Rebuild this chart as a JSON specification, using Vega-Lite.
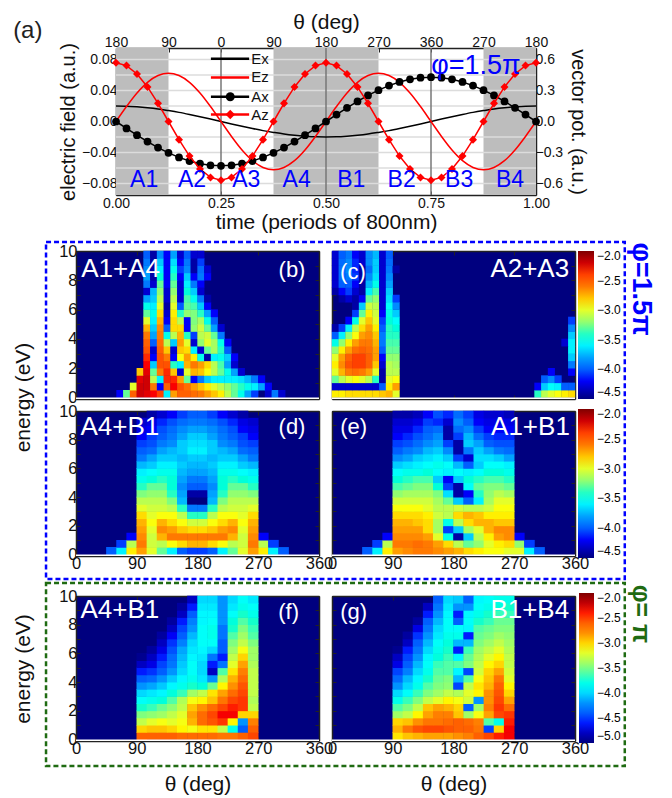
{"$schema":"https://vega.github.io/schema/vega-lite/v6.json","padding":{"left":12,"top":11,"right":0,"bottom":0},"background":"white","spacing":0,"bounds":"flush",
"config":{"view":{"stroke":null},"font":"Liberation Sans","text":{"font":"Liberation Sans"},"legend":{"labelFont":"Liberation Sans"},"axis":{"grid":false,"domainColor":"#222","domainWidth":1.5,"tickColor":"#222","tickSize":-4,"tickWidth":1,"labelFontSize":16.5,"labelColor":"#111","labelPadding":3,"titleFontWeight":"normal","titleColor":"#111","labelFont":"Liberation Sans","titleFont":"Liberation Sans","labelOverlap":false,"labelBound":false,"labelFlush":false}},
"resolve":{"scale":{"color":"independent","x":"independent","y":"independent"}},
"datasets":{"leg":[{"a":0.226,"b":0.317,"y":0.081,"s":"Ex","m":0.322},{"a":0.226,"b":0.317,"y":0.057,"s":"Ez","m":0.322},{"a":0.226,"b":0.317,"y":0.032,"s":"Ax","m":0.322},{"a":0.226,"b":0.317,"y":0.009,"s":"Az","m":0.322}],"one":[{"a":0}]},
"vconcat":[
{"spacing":0,"bounds":"flush","hconcat":[{"width":40,"height":1,"data":{"name":"one"},"mark":{"type":"point","opacity":0},"encoding":{}},
{"width":420,"height":147,"data":{"values":[
{"t":0,"Ex":0.02,"Ez":0,"Ax":0,"Az":0.57},{"t":0.025,"Ex":0.0198,"Ez":0.0193,"Ax":-0.067,"Az":0.542},{"t":0.05,"Ex":0.019,"Ez":0.0368,"Ax":-0.133,"Az":0.461},{"t":0.075,"Ex":0.0178,"Ez":0.0506,"Ax":-0.195,"Az":0.335},{"t":0.1,"Ex":0.0162,"Ez":0.0594,"Ax":-0.253,"Az":0.176},{"t":0.125,"Ex":0.0141,"Ez":0.0625,"Ax":-0.304,"Az":0},{"t":0.15,"Ex":0.0118,"Ez":0.0594,"Ax":-0.348,"Az":-0.176},{"t":0.175,"Ex":0.0091,"Ez":0.0506,"Ax":-0.383,"Az":-0.335},{"t":0.2,"Ex":0.0062,"Ez":0.0368,"Ax":-0.409,"Az":-0.461},{"t":0.225,"Ex":0.0031,"Ez":0.0193,"Ax":-0.425,"Az":-0.542},{"t":0.25,"Ex":0,"Ez":0,"Ax":-0.43,"Az":-0.57},{"t":0.275,"Ex":-0.0031,"Ez":-0.0193,"Ax":-0.425,"Az":-0.542},{"t":0.3,"Ex":-0.0062,"Ez":-0.0368,"Ax":-0.409,"Az":-0.461},{"t":0.325,"Ex":-0.0091,"Ez":-0.0506,"Ax":-0.383,"Az":-0.335},{"t":0.35,"Ex":-0.0118,"Ez":-0.0594,"Ax":-0.348,"Az":-0.176},{"t":0.375,"Ex":-0.0141,"Ez":-0.0625,"Ax":-0.304,"Az":0},{"t":0.4,"Ex":-0.0162,"Ez":-0.0594,"Ax":-0.253,"Az":0.176},{"t":0.425,"Ex":-0.0178,"Ez":-0.0506,"Ax":-0.195,"Az":0.335},{"t":0.45,"Ex":-0.019,"Ez":-0.0368,"Ax":-0.133,"Az":0.461},{"t":0.475,"Ex":-0.0198,"Ez":-0.0193,"Ax":-0.067,"Az":0.542},{"t":0.5,"Ex":-0.02,"Ez":0,"Ax":0,"Az":0.57},{"t":0.525,"Ex":-0.0198,"Ez":0.0193,"Ax":0.067,"Az":0.542},{"t":0.55,"Ex":-0.019,"Ez":0.0368,"Ax":0.133,"Az":0.461},{"t":0.575,"Ex":-0.0178,"Ez":0.0506,"Ax":0.195,"Az":0.335},{"t":0.6,"Ex":-0.0162,"Ez":0.0594,"Ax":0.253,"Az":0.176},{"t":0.625,"Ex":-0.0141,"Ez":0.0625,"Ax":0.304,"Az":0},{"t":0.65,"Ex":-0.0118,"Ez":0.0594,"Ax":0.348,"Az":-0.176},{"t":0.675,"Ex":-0.0091,"Ez":0.0506,"Ax":0.383,"Az":-0.335},{"t":0.7,"Ex":-0.0062,"Ez":0.0368,"Ax":0.409,"Az":-0.461},{"t":0.725,"Ex":-0.0031,"Ez":0.0193,"Ax":0.425,"Az":-0.542},{"t":0.75,"Ex":0,"Ez":0,"Ax":0.43,"Az":-0.57},{"t":0.775,"Ex":0.0031,"Ez":-0.0193,"Ax":0.425,"Az":-0.542},{"t":0.8,"Ex":0.0062,"Ez":-0.0368,"Ax":0.409,"Az":-0.461},{"t":0.825,"Ex":0.0091,"Ez":-0.0506,"Ax":0.383,"Az":-0.335},{"t":0.85,"Ex":0.0118,"Ez":-0.0594,"Ax":0.348,"Az":-0.176},{"t":0.875,"Ex":0.0141,"Ez":-0.0625,"Ax":0.304,"Az":0},{"t":0.9,"Ex":0.0162,"Ez":-0.0594,"Ax":0.253,"Az":0.176},{"t":0.925,"Ex":0.0178,"Ez":-0.0506,"Ax":0.195,"Az":0.335},{"t":0.95,"Ex":0.019,"Ez":-0.0368,"Ax":0.133,"Az":0.461},{"t":0.975,"Ex":0.0198,"Ez":-0.0193,"Ax":0.067,"Az":0.542},{"t":1,"Ex":0.02,"Ez":0,"Ax":0,"Az":0.57}]},
"resolve":{"scale":{"y":"independent"},"axis":{"x":"independent","y":"independent"}},
"layer":[
{"data":{"values":[{"a":0,"b":0.125},{"a":0.375,"b":0.625},{"a":0.875,"b":1}]},"mark":{"type":"rect","color":"#bdbdbd"},"encoding":{"x":{"field":"a","type":"quantitative","scale":{"domain":[0,1],"nice":false},"axis":{"title":"time (periods of 800nm)","titleFontSize":21,"titlePadding":1,"values":[0,0.25,0.5,0.75,1],"format":".2f","labelFontSize":14,"labelPadding":5}},"x2":{"field":"b"}}},
{"data":{"values":[{"g":-0.08},{"g":-0.06},{"g":-0.04},{"g":-0.02},{"g":0.02},{"g":0.04},{"g":0.06},{"g":0.08}]},"mark":{"type":"rule","color":"#dcdcdc","strokeWidth":1.5},"encoding":{"y":{"field":"g","type":"quantitative","scale":{"domain":[-0.095,0.095],"nice":false},"axis":{"title":"electric field (a.u.)","titleFontSize":20,"titlePadding":3,"values":[-0.08,-0.04,0,0.04,0.08],"format":".2f","labelFontSize":14}}}},
{"data":{"values":[{"g":0.25},{"g":0.5},{"g":0.75}]},"mark":{"type":"rule","color":"#777","strokeWidth":1.5},"encoding":{"x":{"field":"g","type":"quantitative","axis":null}}},
{"mark":{"type":"line","color":"black","strokeWidth":1.5,"interpolate":"monotone"},"encoding":{"x":{"field":"t","type":"quantitative","axis":null},"y":{"field":"Ex","type":"quantitative","scale":{"domain":[-0.095,0.095],"nice":false},"axis":null}}},
{"mark":{"type":"line","color":"#ff0000","strokeWidth":1.5,"interpolate":"monotone"},"encoding":{"x":{"field":"t","type":"quantitative","axis":null},"y":{"field":"Ez","type":"quantitative","scale":{"domain":[-0.095,0.095],"nice":false},"axis":null}}},
{"mark":{"type":"line","color":"black","strokeWidth":1.5,"point":{"filled":true,"size":60,"color":"black"}},"encoding":{"x":{"field":"t","type":"quantitative","axis":null},"y":{"field":"Ax","type":"quantitative","scale":{"domain":[-0.7125,0.7125],"nice":false},"axis":{"orient":"right","title":"vector pot. (a.u.)","titleFontSize":20,"titlePadding":5,"values":[-0.6,-0.3,0,0.3,0.6],"format":".1f","labelFontSize":14}}}},
{"mark":{"type":"line","color":"#ff0000","strokeWidth":1.5,"point":{"filled":true,"size":65,"shape":"diamond","color":"#ff0000"}},"encoding":{"x":{"field":"t","type":"quantitative","axis":null},"y":{"field":"Az","type":"quantitative","scale":{"domain":[-0.7125,0.7125],"nice":false},"axis":null}}},
{"data":{"name":"leg"},"mark":{"type":"rule","strokeWidth":2.5},"encoding":{"x":{"field":"a","type":"quantitative","axis":null},"x2":{"field":"b"},"y":{"field":"y","type":"quantitative","scale":{"domain":[-0.095,0.095],"nice":false},"axis":null},"color":{"field":"s","type":"nominal","legend":null,"scale":{"domain":["Ex","Ez","Ax","Az"],"range":["black","#ff0000","black","#ff0000"]}}}},
{"data":{"values":[{"a":0.272,"y":0.032,"s":"Ax"}]},"mark":{"type":"point","filled":true,"size":80,"color":"black","opacity":1},"encoding":{"x":{"field":"a","type":"quantitative","axis":null},"y":{"field":"y","type":"quantitative","scale":{"domain":[-0.095,0.095],"nice":false},"axis":null}}},
{"data":{"values":[{"a":0.272,"y":0.009,"s":"Az"}]},"mark":{"type":"point","filled":true,"size":90,"shape":"diamond","color":"#ff0000","opacity":1},"encoding":{"x":{"field":"a","type":"quantitative","axis":null},"y":{"field":"y","type":"quantitative","scale":{"domain":[-0.095,0.095],"nice":false},"axis":null}}},
{"data":{"name":"leg"},"mark":{"type":"text","align":"left","fontSize":15,"color":"#111"},"encoding":{"x":{"field":"m","type":"quantitative","axis":null},"y":{"field":"y","type":"quantitative","scale":{"domain":[-0.095,0.095],"nice":false},"axis":null},"text":{"field":"s"}}},
{"data":{"values":[{"a":0.067,"y":-0.075,"s":"A1"},{"a":0.181,"y":-0.075,"s":"A2"},{"a":0.31,"y":-0.075,"s":"A3"},{"a":0.43,"y":-0.075,"s":"A4"},{"a":0.56,"y":-0.075,"s":"B1"},{"a":0.68,"y":-0.075,"s":"B2"},{"a":0.817,"y":-0.075,"s":"B3"},{"a":0.938,"y":-0.075,"s":"B4"}]},"mark":{"type":"text","fontSize":23,"color":"#0000ff"},"encoding":{"x":{"field":"a","type":"quantitative","axis":null},"y":{"field":"y","type":"quantitative","scale":{"domain":[-0.095,0.095],"nice":false},"axis":null},"text":{"field":"s"}}},
{"data":{"values":[{"a":-0.21,"y":0.117,"s":"(a)"}]},"mark":{"type":"text","fontSize":24,"color":"#222"},"encoding":{"x":{"field":"a","type":"quantitative","axis":null},"y":{"field":"y","type":"quantitative","scale":{"domain":[-0.095,0.095],"nice":false},"axis":null},"text":{"field":"s"}}},
{"data":{"values":[{"a":0.857,"y":0.072,"s":"φ=1.5π"}]},"mark":{"type":"text","fontSize":27,"color":"#0000ff"},"encoding":{"x":{"field":"a","type":"quantitative","axis":{"orient":"top","title":"θ (deg)","titleFontSize":21,"titlePadding":3,"values":[0,0.125,0.25,0.375,0.5,0.625,0.75,0.875,1],"labelExpr":"['180','90','0','90','180','270','360','270','180'][round(datum.value*8)]","labelFontSize":14}},"y":{"field":"y","type":"quantitative","scale":{"domain":[-0.095,0.095],"nice":false},"axis":{"orient":"left","labels":false,"title":null,"values":[-0.08,-0.06,-0.04,-0.02,0,0.02,0.04,0.06,0.08],"domain":false}},"text":{"field":"s"}}}
]}]},
{"width":1,"height":203,"data":{"name":"one"},"mark":{"type":"point","opacity":0},"encoding":{}},
{"spacing":13,"bounds":"flush","resolve":{"scale":{"color":"independent","x":"independent","y":"independent"}},"hconcat":[
{"width":243,"height":148,"view":{"fill":"#00007f"},"data":{"values":[
{"t":65,"e":0.25,"v":-4.2},{"t":75,"e":0.25,"v":-3.3},{"t":85,"e":0.25,"v":-2.5},{"t":95,"e":0.25,"v":-2.2},{"t":105,"e":0.25,"v":-2.25},{"t":115,"e":0.25,"v":-2.3},{"t":125,"e":0.25,"v":-2.4},{"t":135,"e":0.25,"v":-3.6},{"t":145,"e":0.25,"v":-2.7},{"t":155,"e":0.25,"v":-2.5},{"t":165,"e":0.25,"v":-2.5},{"t":175,"e":0.25,"v":-2.55},{"t":185,"e":0.25,"v":-2.6},{"t":195,"e":0.25,"v":-2.7},{"t":205,"e":0.25,"v":-2.8},{"t":215,"e":0.25,"v":-2.9},{"t":225,"e":0.25,"v":-3.1},{"t":235,"e":0.25,"v":-3.3},{"t":245,"e":0.25,"v":-3.5},{"t":255,"e":0.25,"v":-3.8},{"t":265,"e":0.25,"v":-4.1},{"t":285,"e":0.25,"v":-4.3},{"t":295,"e":0.25,"v":-3.9},{"t":305,"e":0.25,"v":-4.3},
{"t":85,"e":0.75,"v":-3},{"t":95,"e":0.75,"v":-2.2},{"t":105,"e":0.75,"v":-2.2},{"t":115,"e":0.75,"v":-2.6},{"t":125,"e":0.75,"v":-4.2},{"t":135,"e":0.75,"v":-2.5},{"t":145,"e":0.75,"v":-2.3},{"t":155,"e":0.75,"v":-2.45},{"t":165,"e":0.75,"v":-2.55},{"t":175,"e":0.75,"v":-2.7},{"t":185,"e":0.75,"v":-2.8},{"t":195,"e":0.75,"v":-2.9},{"t":205,"e":0.75,"v":-3},{"t":215,"e":0.75,"v":-3.1},{"t":225,"e":0.75,"v":-3.2},{"t":235,"e":0.75,"v":-3.3},{"t":245,"e":0.75,"v":-3.4},{"t":255,"e":0.75,"v":-3.5},{"t":265,"e":0.75,"v":-3.6},{"t":275,"e":0.75,"v":-3.8},{"t":285,"e":0.75,"v":-4.2},
{"t":95,"e":1.25,"v":-2.25},{"t":105,"e":1.25,"v":-2.2},{"t":115,"e":1.25,"v":-3.1},{"t":125,"e":1.25,"v":-3.6},{"t":135,"e":1.25,"v":-2.35},{"t":145,"e":1.25,"v":-2.35},{"t":155,"e":1.25,"v":-2.7},{"t":165,"e":1.25,"v":-3.3},{"t":175,"e":1.25,"v":-4.2},{"t":185,"e":1.25,"v":-3.9},{"t":195,"e":1.25,"v":-3.7},{"t":205,"e":1.25,"v":-3.6},{"t":215,"e":1.25,"v":-3.6},{"t":225,"e":1.25,"v":-3.6},{"t":235,"e":1.25,"v":-3.6},{"t":245,"e":1.25,"v":-3.65},{"t":255,"e":1.25,"v":-3.75},{"t":265,"e":1.25,"v":-3.9},{"t":275,"e":1.25,"v":-4.2},
{"t":95,"e":1.75,"v":-2.8},{"t":105,"e":1.75,"v":-2.25},{"t":115,"e":1.75,"v":-3.3},{"t":125,"e":1.75,"v":-2.6},{"t":135,"e":1.75,"v":-2.35},{"t":145,"e":1.75,"v":-2.8},{"t":155,"e":1.75,"v":-4.3},{"t":165,"e":1.75,"v":-3},{"t":175,"e":1.75,"v":-2.75},{"t":185,"e":1.75,"v":-2.8},{"t":195,"e":1.75,"v":-2.95},{"t":205,"e":1.75,"v":-3.1},{"t":215,"e":1.75,"v":-3.3},{"t":225,"e":1.75,"v":-3.5},{"t":235,"e":1.75,"v":-3.8},{"t":245,"e":1.75,"v":-4.3},
{"t":105,"e":2.25,"v":-2.3},{"t":115,"e":2.25,"v":-3.7},{"t":125,"e":2.25,"v":-2.45},{"t":135,"e":2.25,"v":-2.45},{"t":145,"e":2.25,"v":-3.4},{"t":155,"e":2.25,"v":-3.6},{"t":165,"e":2.25,"v":-2.75},{"t":175,"e":2.25,"v":-2.6},{"t":185,"e":2.25,"v":-2.7},{"t":195,"e":2.25,"v":-2.85},{"t":205,"e":2.25,"v":-3.1},{"t":215,"e":2.25,"v":-3.35},{"t":225,"e":2.25,"v":-3.8},{"t":235,"e":2.25,"v":-4.3},
{"t":105,"e":2.75,"v":-2.35},{"t":115,"e":2.75,"v":-4.2},{"t":125,"e":2.75,"v":-2.45},{"t":135,"e":2.75,"v":-2.6},{"t":145,"e":2.75,"v":-4.2},{"t":155,"e":2.75,"v":-2.95},{"t":165,"e":2.75,"v":-2.7},{"t":175,"e":2.75,"v":-2.9},{"t":185,"e":2.75,"v":-3.5},{"t":195,"e":2.75,"v":-4.4},{"t":205,"e":2.75,"v":-3.6},{"t":215,"e":2.75,"v":-3.5},{"t":225,"e":2.75,"v":-3.7},{"t":235,"e":2.75,"v":-4.2},
{"t":105,"e":3.25,"v":-2.45},{"t":115,"e":3.25,"v":-4.3},{"t":125,"e":3.25,"v":-2.5},{"t":135,"e":3.25,"v":-2.8},{"t":145,"e":3.25,"v":-4.3},{"t":155,"e":3.25,"v":-2.8},{"t":165,"e":3.25,"v":-2.85},{"t":175,"e":3.25,"v":-3.6},{"t":185,"e":3.25,"v":-4.3},{"t":195,"e":3.25,"v":-3.3},{"t":205,"e":3.25,"v":-3.15},{"t":215,"e":3.25,"v":-3.4},{"t":225,"e":3.25,"v":-4},
{"t":105,"e":3.75,"v":-2.5},{"t":115,"e":3.75,"v":-4},{"t":125,"e":3.75,"v":-2.55},{"t":135,"e":3.75,"v":-3.1},{"t":145,"e":3.75,"v":-3.7},{"t":155,"e":3.75,"v":-2.7},{"t":165,"e":3.75,"v":-3},{"t":175,"e":3.75,"v":-4.3},{"t":185,"e":3.75,"v":-3.2},{"t":195,"e":3.75,"v":-3},{"t":205,"e":3.75,"v":-3.15},{"t":215,"e":3.75,"v":-3.5},{"t":225,"e":3.75,"v":-4.2},
{"t":105,"e":4.25,"v":-2.6},{"t":115,"e":4.25,"v":-3.8},{"t":125,"e":4.25,"v":-2.6},{"t":135,"e":4.25,"v":-3.5},{"t":145,"e":4.25,"v":-3.1},{"t":155,"e":4.25,"v":-2.75},{"t":165,"e":4.25,"v":-3.4},{"t":175,"e":4.25,"v":-4.1},{"t":185,"e":4.25,"v":-3.1},{"t":195,"e":4.25,"v":-3.05},{"t":205,"e":4.25,"v":-3.3},{"t":215,"e":4.25,"v":-3.9},
{"t":105,"e":4.75,"v":-2.75},{"t":115,"e":4.75,"v":-3.7},{"t":125,"e":4.75,"v":-2.65},{"t":135,"e":4.75,"v":-4},{"t":145,"e":4.75,"v":-2.85},{"t":155,"e":4.75,"v":-2.85},{"t":165,"e":4.75,"v":-4.2},{"t":175,"e":4.75,"v":-3.2},{"t":185,"e":4.75,"v":-3.05},{"t":195,"e":4.75,"v":-3.3},{"t":205,"e":4.75,"v":-3.8},{"t":215,"e":4.75,"v":-4.3},
{"t":105,"e":5.25,"v":-3},{"t":115,"e":5.25,"v":-3.6},{"t":125,"e":5.25,"v":-2.75},{"t":135,"e":5.25,"v":-4.2},{"t":145,"e":5.25,"v":-2.85},{"t":155,"e":5.25,"v":-3.1},{"t":165,"e":5.25,"v":-4.2},{"t":175,"e":5.25,"v":-3.25},{"t":185,"e":5.25,"v":-3.15},{"t":195,"e":5.25,"v":-3.5},{"t":205,"e":5.25,"v":-4},
{"t":105,"e":5.75,"v":-3.3},{"t":115,"e":5.75,"v":-3.5},{"t":125,"e":5.75,"v":-2.85},{"t":135,"e":5.75,"v":-4.3},{"t":145,"e":5.75,"v":-2.9},{"t":155,"e":5.75,"v":-3.4},{"t":165,"e":5.75,"v":-3.2},{"t":175,"e":5.75,"v":-3.25},{"t":185,"e":5.75,"v":-3.4},{"t":195,"e":5.75,"v":-3.8},{"t":205,"e":5.75,"v":-4.2},
{"t":105,"e":6.25,"v":-3.5},{"t":115,"e":6.25,"v":-3.6},{"t":125,"e":6.25,"v":-3},{"t":135,"e":6.25,"v":-4.4},{"t":145,"e":6.25,"v":-3},{"t":155,"e":6.25,"v":-4},{"t":165,"e":6.25,"v":-3.3},{"t":175,"e":6.25,"v":-3.35},{"t":185,"e":6.25,"v":-3.7},{"t":195,"e":6.25,"v":-4.2},
{"t":105,"e":6.75,"v":-3.8},{"t":115,"e":6.75,"v":-3.7},{"t":125,"e":6.75,"v":-3.1},{"t":135,"e":6.75,"v":-4.3},{"t":145,"e":6.75,"v":-3.1},{"t":155,"e":6.75,"v":-4.3},{"t":165,"e":6.75,"v":-3.35},{"t":175,"e":6.75,"v":-3.5},{"t":185,"e":6.75,"v":-3.9},{"t":195,"e":6.75,"v":-4.4},
{"t":105,"e":7.25,"v":-4.3},{"t":115,"e":7.25,"v":-3.75},{"t":125,"e":7.25,"v":-3.2},{"t":135,"e":7.25,"v":-4.3},{"t":145,"e":7.25,"v":-3.2},{"t":155,"e":7.25,"v":-4.3},{"t":165,"e":7.25,"v":-3.45},{"t":175,"e":7.25,"v":-3.7},{"t":185,"e":7.25,"v":-4.3},
{"t":105,"e":7.75,"v":-3.9},{"t":115,"e":7.75,"v":-4.3},{"t":125,"e":7.75,"v":-3.3},{"t":135,"e":7.75,"v":-4.2},{"t":145,"e":7.75,"v":-3.3},{"t":155,"e":7.75,"v":-4.3},{"t":165,"e":7.75,"v":-3.6},{"t":175,"e":7.75,"v":-3.9},{"t":185,"e":7.75,"v":-4.2},
{"t":105,"e":8.25,"v":-3.8},{"t":115,"e":8.25,"v":-4.4},{"t":125,"e":8.25,"v":-3.45},{"t":135,"e":8.25,"v":-4.2},{"t":145,"e":8.25,"v":-3.4},{"t":155,"e":8.25,"v":-4.2},{"t":165,"e":8.25,"v":-3.7},{"t":175,"e":8.25,"v":-4.2},{"t":185,"e":8.25,"v":-3.9},{"t":195,"e":8.25,"v":-4.2},
{"t":105,"e":8.75,"v":-3.85},{"t":115,"e":8.75,"v":-4.4},{"t":125,"e":8.75,"v":-3.6},{"t":135,"e":8.75,"v":-4.2},{"t":145,"e":8.75,"v":-3.5},{"t":155,"e":8.75,"v":-4.1},{"t":165,"e":8.75,"v":-3.85},{"t":175,"e":8.75,"v":-4.4},{"t":185,"e":8.75,"v":-3.95},{"t":195,"e":8.75,"v":-4.3},
{"t":105,"e":9.25,"v":-3.9},{"t":115,"e":9.25,"v":-4.4},{"t":125,"e":9.25,"v":-3.7},{"t":135,"e":9.25,"v":-4.2},{"t":145,"e":9.25,"v":-3.65},{"t":155,"e":9.25,"v":-4.2},{"t":165,"e":9.25,"v":-3.9},{"t":175,"e":9.25,"v":-4.4},{"t":185,"e":9.25,"v":-4.1},
{"t":105,"e":9.75,"v":-4},{"t":115,"e":9.75,"v":-4.4},{"t":125,"e":9.75,"v":-3.85},{"t":135,"e":9.75,"v":-4.2},{"t":145,"e":9.75,"v":-3.8},{"t":155,"e":9.75,"v":-4.3},{"t":165,"e":9.75,"v":-4},{"t":175,"e":9.75,"v":-4.3},{"t":185,"e":9.75,"v":-4.3}]},"resolve":{"axis":{"x":"independent","y":"independent"}},"layer":[
{"mark":{"type":"rect","width":7.1,"height":7.8},"encoding":{"x":{"field":"t","type":"quantitative","scale":{"domain":[0,360],"nice":false},"axis":{"title":null,"labels":false,"values":[0,90,180,270,360]}},"y":{"field":"e","type":"quantitative","scale":{"domain":[-0.1,10],"nice":false},"axis":{"title":"energy (eV)","titleFontSize":21,"titleX":-43,"titleY":146,"values":[0,1,2,3,4,5,6,7,8,9,10],"labelExpr":"datum.value%2==0?datum.label:''"}},"color":{"field":"v","type":"quantitative","legend":null,"scale":{"domain":[-4.5,-4.1875,-3.875,-3.5625,-3.25,-2.9375,-2.625,-2.3125,-2],"range":["#00007f","#0000ff","#007fff","#00ffff","#7fff7f","#ffff00","#ff7f00","#ff0000","#7f0000"]}}}},
{"data":{"name":"one"},"mark":{"type":"rule","color":"white","strokeWidth":1.5},"encoding":{"y":{"datum":-0.05,"type":"quantitative","scale":{"domain":[-0.1,10],"nice":false},"axis":null}}},
{"data":{"values":[{"t":66,"e":8.8,"s":"A1+A4"}]},"mark":{"type":"text","fontSize":26,"color":"white"},"encoding":{"x":{"field":"t","type":"quantitative","axis":{"orient":"top","title":null,"labels":false,"values":[0,90,180,270,360]}},"y":{"field":"e","type":"quantitative","scale":{"domain":[-0.1,10],"nice":false},"axis":{"orient":"right","title":null,"labels":false,"values":[0,1,2,3,4,5,6,7,8,9,10]}},"text":{"field":"s"}}},
{"data":{"values":[{"t":320,"e":8.7,"s":"(b)"}]},"mark":{"type":"text","fontSize":22,"color":"white"},"encoding":{"x":{"field":"t","type":"quantitative","axis":null},"y":{"field":"e","type":"quantitative","scale":{"domain":[-0.1,10],"nice":false},"axis":null},"text":{"field":"s"}}}]},
{"width":243,"height":148,"view":{"fill":"#00007f"},"data":{"values":[
{"t":5,"e":0.25,"v":-2.9},{"t":15,"e":0.25,"v":-2.9},{"t":25,"e":0.25,"v":-2.85},{"t":35,"e":0.25,"v":-2.85},{"t":45,"e":0.25,"v":-2.85},{"t":55,"e":0.25,"v":-2.85},{"t":65,"e":0.25,"v":-2.85},{"t":75,"e":0.25,"v":-2.8},{"t":85,"e":0.25,"v":-2.75},{"t":95,"e":0.25,"v":-3},{"t":305,"e":0.25,"v":-3.4},{"t":315,"e":0.25,"v":-3.1},{"t":325,"e":0.25,"v":-3},{"t":335,"e":0.25,"v":-2.95},{"t":345,"e":0.25,"v":-2.9},{"t":355,"e":0.25,"v":-2.85},
{"t":5,"e":0.75,"v":-4.3},{"t":15,"e":0.75,"v":-4.3},{"t":25,"e":0.75,"v":-4.3},{"t":35,"e":0.75,"v":-4.3},{"t":45,"e":0.75,"v":-4.3},{"t":55,"e":0.75,"v":-4.3},{"t":65,"e":0.75,"v":-4.3},{"t":75,"e":0.75,"v":-4},{"t":85,"e":0.75,"v":-2.9},{"t":95,"e":0.75,"v":-2.7},{"t":305,"e":0.75,"v":-4.2},{"t":315,"e":0.75,"v":-3.7},{"t":325,"e":0.75,"v":-3.55},{"t":335,"e":0.75,"v":-3.6},{"t":345,"e":0.75,"v":-4},{"t":355,"e":0.75,"v":-4},
{"t":5,"e":1.25,"v":-3.3},{"t":15,"e":1.25,"v":-3.1},{"t":25,"e":1.25,"v":-3},{"t":35,"e":1.25,"v":-2.95},{"t":45,"e":1.25,"v":-3},{"t":55,"e":1.25,"v":-3.1},{"t":65,"e":1.25,"v":-3.4},{"t":75,"e":1.25,"v":-4.4},{"t":85,"e":1.25,"v":-3},{"t":95,"e":1.25,"v":-2.95},{"t":315,"e":1.25,"v":-4},{"t":325,"e":1.25,"v":-3.85},{"t":335,"e":1.25,"v":-4.1},
{"t":5,"e":1.75,"v":-3},{"t":15,"e":1.75,"v":-2.75},{"t":25,"e":1.75,"v":-2.6},{"t":35,"e":1.75,"v":-2.55},{"t":45,"e":1.75,"v":-2.6},{"t":55,"e":1.75,"v":-2.7},{"t":65,"e":1.75,"v":-3},{"t":75,"e":1.75,"v":-4.4},{"t":85,"e":1.75,"v":-3.1},{"t":95,"e":1.75,"v":-3.1},{"t":325,"e":1.75,"v":-4.2},{"t":355,"e":1.75,"v":-4.2},
{"t":5,"e":2.25,"v":-2.9},{"t":15,"e":2.25,"v":-2.65},{"t":25,"e":2.25,"v":-2.45},{"t":35,"e":2.25,"v":-2.4},{"t":45,"e":2.25,"v":-2.4},{"t":55,"e":2.25,"v":-2.5},{"t":65,"e":2.25,"v":-2.8},{"t":75,"e":2.25,"v":-4.3},{"t":85,"e":2.25,"v":-3.1},{"t":95,"e":2.25,"v":-3.15},{"t":355,"e":2.25,"v":-3.9},
{"t":5,"e":2.75,"v":-3},{"t":15,"e":2.75,"v":-2.7},{"t":25,"e":2.75,"v":-2.5},{"t":35,"e":2.75,"v":-2.4},{"t":45,"e":2.75,"v":-2.4},{"t":55,"e":2.75,"v":-2.5},{"t":65,"e":2.75,"v":-2.7},{"t":75,"e":2.75,"v":-4.2},{"t":85,"e":2.75,"v":-3.2},{"t":95,"e":2.75,"v":-3.2},{"t":355,"e":2.75,"v":-3.7},
{"t":5,"e":3.25,"v":-3.2},{"t":15,"e":3.25,"v":-2.9},{"t":25,"e":3.25,"v":-2.7},{"t":35,"e":3.25,"v":-2.55},{"t":45,"e":3.25,"v":-2.5},{"t":55,"e":3.25,"v":-2.55},{"t":65,"e":3.25,"v":-2.7},{"t":75,"e":3.25,"v":-4},{"t":85,"e":3.25,"v":-3.3},{"t":95,"e":3.25,"v":-3.3},{"t":355,"e":3.25,"v":-3.6},
{"t":5,"e":3.75,"v":-3.5},{"t":15,"e":3.75,"v":-3.2},{"t":25,"e":3.75,"v":-2.9},{"t":35,"e":3.75,"v":-2.7},{"t":45,"e":3.75,"v":-2.6},{"t":55,"e":3.75,"v":-2.6},{"t":65,"e":3.75,"v":-2.75},{"t":75,"e":3.75,"v":-3.9},{"t":85,"e":3.75,"v":-3.35},{"t":95,"e":3.75,"v":-3.35},{"t":345,"e":3.75,"v":-4.3},{"t":355,"e":3.75,"v":-3.6},
{"t":5,"e":4.25,"v":-4},{"t":15,"e":4.25,"v":-3.6},{"t":25,"e":4.25,"v":-3.2},{"t":35,"e":4.25,"v":-2.95},{"t":45,"e":4.25,"v":-2.7},{"t":55,"e":4.25,"v":-2.65},{"t":65,"e":4.25,"v":-2.8},{"t":75,"e":4.25,"v":-3.9},{"t":85,"e":4.25,"v":-3.4},{"t":95,"e":4.25,"v":-3.4},{"t":355,"e":4.25,"v":-3.7},
{"t":5,"e":4.75,"v":-4.4},{"t":15,"e":4.75,"v":-4.1},{"t":25,"e":4.75,"v":-3.6},{"t":35,"e":4.75,"v":-3.1},{"t":45,"e":4.75,"v":-2.85},{"t":55,"e":4.75,"v":-2.7},{"t":65,"e":4.75,"v":-2.9},{"t":75,"e":4.75,"v":-4},{"t":85,"e":4.75,"v":-3.4},{"t":95,"e":4.75,"v":-3.45},{"t":355,"e":4.75,"v":-3.85},
{"t":25,"e":5.25,"v":-4.2},{"t":35,"e":5.25,"v":-3.5},{"t":45,"e":5.25,"v":-3},{"t":55,"e":5.25,"v":-2.8},{"t":65,"e":5.25,"v":-3},{"t":75,"e":5.25,"v":-4.1},{"t":85,"e":5.25,"v":-3.45},{"t":95,"e":5.25,"v":-3.55},{"t":355,"e":5.25,"v":-4.1},
{"t":35,"e":5.75,"v":-4.1},{"t":45,"e":5.75,"v":-3.3},{"t":55,"e":5.75,"v":-2.9},{"t":65,"e":5.75,"v":-3.05},{"t":75,"e":5.75,"v":-4.2},{"t":85,"e":5.75,"v":-3.5},{"t":95,"e":5.75,"v":-3.7},
{"t":35,"e":6.25,"v":-4.4},{"t":45,"e":6.25,"v":-3.7},{"t":55,"e":6.25,"v":-3.05},{"t":65,"e":6.25,"v":-3.1},{"t":75,"e":6.25,"v":-4.3},{"t":85,"e":6.25,"v":-3.55},{"t":95,"e":6.25,"v":-3.85},
{"t":15,"e":6.75,"v":-4.4},{"t":25,"e":6.75,"v":-4.3},{"t":35,"e":6.75,"v":-4.4},{"t":45,"e":6.75,"v":-4.2},{"t":55,"e":6.75,"v":-3.3},{"t":65,"e":6.75,"v":-3.2},{"t":75,"e":6.75,"v":-4.3},{"t":85,"e":6.75,"v":-3.65},{"t":95,"e":6.75,"v":-4.1},
{"t":5,"e":7.25,"v":-4.4},{"t":15,"e":7.25,"v":-4.2},{"t":25,"e":7.25,"v":-4.1},{"t":35,"e":7.25,"v":-4.3},{"t":45,"e":7.25,"v":-4.4},{"t":55,"e":7.25,"v":-3.6},{"t":65,"e":7.25,"v":-3.35},{"t":75,"e":7.25,"v":-4.3},{"t":85,"e":7.25,"v":-3.7},
{"t":5,"e":7.75,"v":-4.3},{"t":15,"e":7.75,"v":-4},{"t":25,"e":7.75,"v":-4},{"t":35,"e":7.75,"v":-4.2},{"t":45,"e":7.75,"v":-4.4},{"t":55,"e":7.75,"v":-3.75},{"t":65,"e":7.75,"v":-3.5},{"t":75,"e":7.75,"v":-4.3},{"t":85,"e":7.75,"v":-3.8},
{"t":5,"e":8.25,"v":-4.3},{"t":15,"e":8.25,"v":-3.95},{"t":25,"e":8.25,"v":-3.9},{"t":35,"e":8.25,"v":-4.1},{"t":45,"e":8.25,"v":-4.4},{"t":55,"e":8.25,"v":-3.85},{"t":65,"e":8.25,"v":-3.65},{"t":75,"e":8.25,"v":-4.3},{"t":85,"e":8.25,"v":-3.85},
{"t":5,"e":8.75,"v":-4.3},{"t":15,"e":8.75,"v":-3.95},{"t":25,"e":8.75,"v":-3.85},{"t":35,"e":8.75,"v":-4.15},{"t":45,"e":8.75,"v":-4.4},{"t":55,"e":8.75,"v":-3.95},{"t":65,"e":8.75,"v":-3.7},{"t":75,"e":8.75,"v":-4.3},{"t":85,"e":8.75,"v":-3.9},{"t":95,"e":8.75,"v":-4.4},
{"t":5,"e":9.25,"v":-4.3},{"t":15,"e":9.25,"v":-3.95},{"t":25,"e":9.25,"v":-3.85},{"t":35,"e":9.25,"v":-4.15},{"t":45,"e":9.25,"v":-4.3},{"t":55,"e":9.25,"v":-3.85},{"t":65,"e":9.25,"v":-3.7},{"t":75,"e":9.25,"v":-4.3},{"t":85,"e":9.25,"v":-3.95},
{"t":5,"e":9.75,"v":-4.3},{"t":15,"e":9.75,"v":-4},{"t":25,"e":9.75,"v":-3.9},{"t":35,"e":9.75,"v":-4.2},{"t":45,"e":9.75,"v":-4.3},{"t":55,"e":9.75,"v":-3.85},{"t":65,"e":9.75,"v":-3.75},{"t":75,"e":9.75,"v":-4.3},{"t":85,"e":9.75,"v":-4}]},"resolve":{"axis":{"x":"independent","y":"independent"}},"layer":[
{"mark":{"type":"rect","width":7.1,"height":7.8},"encoding":{"x":{"field":"t","type":"quantitative","scale":{"domain":[0,360],"nice":false},"axis":{"title":null,"labels":false,"values":[0,90,180,270,360]}},"y":{"field":"e","type":"quantitative","scale":{"domain":[-0.1,10],"nice":false},"axis":{"title":null,"labels":false,"values":[0,1,2,3,4,5,6,7,8,9,10]}},"color":{"field":"v","type":"quantitative","scale":{"domain":[-4.5,-4.1875,-3.875,-3.5625,-3.25,-2.9375,-2.625,-2.3125,-2],"range":["#00007f","#0000ff","#007fff","#00ffff","#7fff7f","#ffff00","#ff7f00","#ff0000","#7f0000"]},"legend":{"orient":"none","legendX":246,"legendY":0,"title":null,"gradientLength":148,"gradientThickness":16,"values":[-4.5,-4,-3.5,-3,-2.5,-2],"format":".1f","labelFontSize":12,"labelOffset":3}}}},
{"data":{"name":"one"},"mark":{"type":"rule","color":"white","strokeWidth":1.5},"encoding":{"y":{"datum":-0.05,"type":"quantitative","scale":{"domain":[-0.1,10],"nice":false},"axis":null}}},
{"data":{"values":[{"t":293,"e":8.8,"s":"A2+A3"}]},"mark":{"type":"text","fontSize":26,"color":"white"},"encoding":{"x":{"field":"t","type":"quantitative","axis":{"orient":"top","title":null,"labels":false,"values":[0,90,180,270,360]}},"y":{"field":"e","type":"quantitative","scale":{"domain":[-0.1,10],"nice":false},"axis":{"orient":"right","title":null,"labels":false,"values":[0,1,2,3,4,5,6,7,8,9,10]}},"text":{"field":"s"}}},
{"data":{"values":[{"t":31,"e":8.6,"s":"(c)"}]},"mark":{"type":"text","fontSize":22,"color":"white"},"encoding":{"x":{"field":"t","type":"quantitative","axis":null},"y":{"field":"e","type":"quantitative","scale":{"domain":[-0.1,10],"nice":false},"axis":null},"text":{"field":"s"}}},
{"data":{"values":[{"t":458,"e":7.4,"s":"φ=1.5π"}]},"mark":{"type":"text","fontSize":27,"fontWeight":"bold","angle":90,"color":"#0000ff"},"encoding":{"x":{"field":"t","type":"quantitative","axis":null},"y":{"field":"e","type":"quantitative","scale":{"domain":[-0.1,10],"nice":false},"axis":null},"text":{"field":"s"}}}]}]},
{"width":1,"height":160,"data":{"name":"one"},"mark":{"type":"point","opacity":0},"encoding":{}},
{"spacing":13,"bounds":"flush","resolve":{"scale":{"color":"independent","x":"independent","y":"independent"}},"hconcat":[
{"width":243,"height":145,"view":{"fill":"#00007f"},"data":{"values":[
{"t":52.5,"e":0.25,"v":-4},{"t":67.5,"e":0.25,"v":-3.6},{"t":82.5,"e":0.25,"v":-2.9},{"t":277.5,"e":0.25,"v":-2.9},{"t":292.5,"e":0.25,"v":-3.6},{"t":307.5,"e":0.25,"v":-4},{"t":67.5,"e":0.75,"v":-4.1},{"t":82.5,"e":0.75,"v":-3.1},{"t":277.5,"e":0.75,"v":-3.1},{"t":292.5,"e":0.75,"v":-4.1},{"t":82.5,"e":1.25,"v":-4.2},{"t":277.5,"e":1.25,"v":-4.2},
{"t":97.5,"e":0.25,"v":-2.7},{"t":112.5,"e":0.25,"v":-3},{"t":127.5,"e":0.25,"v":-3.3},{"t":142.5,"e":0.25,"v":-3.6},{"t":157.5,"e":0.25,"v":-4},{"t":172.5,"e":0.25,"v":-4.1},{"t":187.5,"e":0.25,"v":-4.1},{"t":202.5,"e":0.25,"v":-4},{"t":217.5,"e":0.25,"v":-3.6},{"t":232.5,"e":0.25,"v":-3.3},{"t":247.5,"e":0.25,"v":-3},{"t":262.5,"e":0.25,"v":-2.7},
{"t":97.5,"e":0.75,"v":-2.6},{"t":112.5,"e":0.75,"v":-3.05},{"t":127.5,"e":0.75,"v":-3.1},{"t":142.5,"e":0.75,"v":-2.95},{"t":157.5,"e":0.75,"v":-2.85},{"t":172.5,"e":0.75,"v":-2.75},{"t":187.5,"e":0.75,"v":-2.75},{"t":202.5,"e":0.75,"v":-2.85},{"t":217.5,"e":0.75,"v":-2.95},{"t":232.5,"e":0.75,"v":-3.1},{"t":247.5,"e":0.75,"v":-3.05},{"t":262.5,"e":0.75,"v":-2.6},
{"t":97.5,"e":1.25,"v":-2.65},{"t":112.5,"e":1.25,"v":-3.05},{"t":127.5,"e":1.25,"v":-2.75},{"t":142.5,"e":1.25,"v":-2.6},{"t":157.5,"e":1.25,"v":-2.6},{"t":172.5,"e":1.25,"v":-2.6},{"t":187.5,"e":1.25,"v":-2.6},{"t":202.5,"e":1.25,"v":-2.6},{"t":217.5,"e":1.25,"v":-2.6},{"t":232.5,"e":1.25,"v":-2.75},{"t":247.5,"e":1.25,"v":-3.05},{"t":262.5,"e":1.25,"v":-2.65},
{"t":97.5,"e":1.75,"v":-2.7},{"t":112.5,"e":1.75,"v":-3},{"t":127.5,"e":1.75,"v":-2.65},{"t":142.5,"e":1.75,"v":-2.7},{"t":157.5,"e":1.75,"v":-2.8},{"t":172.5,"e":1.75,"v":-2.85},{"t":187.5,"e":1.75,"v":-2.85},{"t":202.5,"e":1.75,"v":-2.8},{"t":217.5,"e":1.75,"v":-2.7},{"t":232.5,"e":1.75,"v":-2.65},{"t":247.5,"e":1.75,"v":-3},{"t":262.5,"e":1.75,"v":-2.7},
{"t":97.5,"e":2.25,"v":-2.75},{"t":112.5,"e":2.25,"v":-2.95},{"t":127.5,"e":2.25,"v":-2.75},{"t":142.5,"e":2.25,"v":-2.85},{"t":157.5,"e":2.25,"v":-2.95},{"t":172.5,"e":2.25,"v":-3.05},{"t":187.5,"e":2.25,"v":-3.05},{"t":202.5,"e":2.25,"v":-2.95},{"t":217.5,"e":2.25,"v":-2.85},{"t":232.5,"e":2.25,"v":-2.75},{"t":247.5,"e":2.25,"v":-2.95},{"t":262.5,"e":2.25,"v":-2.75},
{"t":97.5,"e":2.75,"v":-2.85},{"t":112.5,"e":2.75,"v":-3},{"t":127.5,"e":2.75,"v":-2.95},{"t":142.5,"e":2.75,"v":-2.95},{"t":157.5,"e":2.75,"v":-3.1},{"t":172.5,"e":2.75,"v":-3.4},{"t":187.5,"e":2.75,"v":-3.4},{"t":202.5,"e":2.75,"v":-3.1},{"t":217.5,"e":2.75,"v":-2.95},{"t":232.5,"e":2.75,"v":-2.95},{"t":247.5,"e":2.75,"v":-3},{"t":262.5,"e":2.75,"v":-2.85},
{"t":97.5,"e":3.25,"v":-3},{"t":112.5,"e":3.25,"v":-3.05},{"t":127.5,"e":3.25,"v":-3.05},{"t":142.5,"e":3.25,"v":-3.1},{"t":157.5,"e":3.25,"v":-3.4},{"t":172.5,"e":3.25,"v":-3.9},{"t":187.5,"e":3.25,"v":-3.9},{"t":202.5,"e":3.25,"v":-3.4},{"t":217.5,"e":3.25,"v":-3.1},{"t":232.5,"e":3.25,"v":-3.05},{"t":247.5,"e":3.25,"v":-3.05},{"t":262.5,"e":3.25,"v":-3},
{"t":97.5,"e":3.75,"v":-3.1},{"t":112.5,"e":3.75,"v":-3.1},{"t":127.5,"e":3.75,"v":-3.1},{"t":142.5,"e":3.75,"v":-3.25},{"t":157.5,"e":3.75,"v":-3.75},{"t":172.5,"e":3.75,"v":-4.5},{"t":187.5,"e":3.75,"v":-4.5},{"t":202.5,"e":3.75,"v":-3.75},{"t":217.5,"e":3.75,"v":-3.25},{"t":232.5,"e":3.75,"v":-3.1},{"t":247.5,"e":3.75,"v":-3.1},{"t":262.5,"e":3.75,"v":-3.1},
{"t":97.5,"e":4.25,"v":-3.25},{"t":112.5,"e":4.25,"v":-3.2},{"t":127.5,"e":4.25,"v":-3.2},{"t":142.5,"e":4.25,"v":-3.4},{"t":157.5,"e":4.25,"v":-3.8},{"t":172.5,"e":4.25,"v":-4.4},{"t":187.5,"e":4.25,"v":-4.4},{"t":202.5,"e":4.25,"v":-3.8},{"t":217.5,"e":4.25,"v":-3.4},{"t":232.5,"e":4.25,"v":-3.2},{"t":247.5,"e":4.25,"v":-3.2},{"t":262.5,"e":4.25,"v":-3.25},
{"t":97.5,"e":4.75,"v":-3.4},{"t":112.5,"e":4.75,"v":-3.3},{"t":127.5,"e":4.75,"v":-3.3},{"t":142.5,"e":4.75,"v":-3.45},{"t":157.5,"e":4.75,"v":-3.85},{"t":172.5,"e":4.75,"v":-4},{"t":187.5,"e":4.75,"v":-4},{"t":202.5,"e":4.75,"v":-3.85},{"t":217.5,"e":4.75,"v":-3.45},{"t":232.5,"e":4.75,"v":-3.3},{"t":247.5,"e":4.75,"v":-3.3},{"t":262.5,"e":4.75,"v":-3.4},
{"t":97.5,"e":5.25,"v":-3.5},{"t":112.5,"e":5.25,"v":-3.45},{"t":127.5,"e":5.25,"v":-3.4},{"t":142.5,"e":5.25,"v":-3.45},{"t":157.5,"e":5.25,"v":-3.8},{"t":172.5,"e":5.25,"v":-3.9},{"t":187.5,"e":5.25,"v":-3.9},{"t":202.5,"e":5.25,"v":-3.8},{"t":217.5,"e":5.25,"v":-3.45},{"t":232.5,"e":5.25,"v":-3.4},{"t":247.5,"e":5.25,"v":-3.45},{"t":262.5,"e":5.25,"v":-3.5},
{"t":97.5,"e":5.75,"v":-3.6},{"t":112.5,"e":5.75,"v":-3.55},{"t":127.5,"e":5.75,"v":-3.5},{"t":142.5,"e":5.75,"v":-3.5},{"t":157.5,"e":5.75,"v":-3.75},{"t":172.5,"e":5.75,"v":-3.8},{"t":187.5,"e":5.75,"v":-3.8},{"t":202.5,"e":5.75,"v":-3.75},{"t":217.5,"e":5.75,"v":-3.5},{"t":232.5,"e":5.75,"v":-3.5},{"t":247.5,"e":5.75,"v":-3.55},{"t":262.5,"e":5.75,"v":-3.6},
{"t":97.5,"e":6.25,"v":-3.75},{"t":112.5,"e":6.25,"v":-3.7},{"t":127.5,"e":6.25,"v":-3.6},{"t":142.5,"e":6.25,"v":-3.6},{"t":157.5,"e":6.25,"v":-3.7},{"t":172.5,"e":6.25,"v":-3.75},{"t":187.5,"e":6.25,"v":-3.75},{"t":202.5,"e":6.25,"v":-3.7},{"t":217.5,"e":6.25,"v":-3.6},{"t":232.5,"e":6.25,"v":-3.6},{"t":247.5,"e":6.25,"v":-3.7},{"t":262.5,"e":6.25,"v":-3.75},
{"t":97.5,"e":6.75,"v":-3.9},{"t":112.5,"e":6.75,"v":-3.8},{"t":127.5,"e":6.75,"v":-3.7},{"t":142.5,"e":6.75,"v":-3.7},{"t":157.5,"e":6.75,"v":-3.75},{"t":172.5,"e":6.75,"v":-3.7},{"t":187.5,"e":6.75,"v":-3.7},{"t":202.5,"e":6.75,"v":-3.75},{"t":217.5,"e":6.75,"v":-3.7},{"t":232.5,"e":6.75,"v":-3.7},{"t":247.5,"e":6.75,"v":-3.8},{"t":262.5,"e":6.75,"v":-3.9},
{"t":97.5,"e":7.25,"v":-4},{"t":112.5,"e":7.25,"v":-3.95},{"t":127.5,"e":7.25,"v":-3.8},{"t":142.5,"e":7.25,"v":-3.75},{"t":157.5,"e":7.25,"v":-3.7},{"t":172.5,"e":7.25,"v":-3.6},{"t":187.5,"e":7.25,"v":-3.6},{"t":202.5,"e":7.25,"v":-3.7},{"t":217.5,"e":7.25,"v":-3.75},{"t":232.5,"e":7.25,"v":-3.8},{"t":247.5,"e":7.25,"v":-3.95},{"t":262.5,"e":7.25,"v":-4},
{"t":97.5,"e":7.75,"v":-4.1},{"t":112.5,"e":7.75,"v":-4.05},{"t":127.5,"e":7.75,"v":-3.9},{"t":142.5,"e":7.75,"v":-3.85},{"t":157.5,"e":7.75,"v":-3.7},{"t":172.5,"e":7.75,"v":-3.65},{"t":187.5,"e":7.75,"v":-3.65},{"t":202.5,"e":7.75,"v":-3.7},{"t":217.5,"e":7.75,"v":-3.85},{"t":232.5,"e":7.75,"v":-3.9},{"t":247.5,"e":7.75,"v":-4.05},{"t":262.5,"e":7.75,"v":-4.1},
{"t":97.5,"e":8.25,"v":-4.2},{"t":112.5,"e":8.25,"v":-4.1},{"t":127.5,"e":8.25,"v":-4},{"t":142.5,"e":8.25,"v":-3.9},{"t":157.5,"e":8.25,"v":-3.8},{"t":172.5,"e":8.25,"v":-3.7},{"t":187.5,"e":8.25,"v":-3.7},{"t":202.5,"e":8.25,"v":-3.8},{"t":217.5,"e":8.25,"v":-3.9},{"t":232.5,"e":8.25,"v":-4},{"t":247.5,"e":8.25,"v":-4.1},{"t":262.5,"e":8.25,"v":-4.2},
{"t":97.5,"e":8.75,"v":-4.25},{"t":112.5,"e":8.75,"v":-4.2},{"t":127.5,"e":8.75,"v":-4.05},{"t":142.5,"e":8.75,"v":-3.95},{"t":157.5,"e":8.75,"v":-3.85},{"t":172.5,"e":8.75,"v":-3.8},{"t":187.5,"e":8.75,"v":-3.8},{"t":202.5,"e":8.75,"v":-3.85},{"t":217.5,"e":8.75,"v":-3.95},{"t":232.5,"e":8.75,"v":-4.05},{"t":247.5,"e":8.75,"v":-4.2},{"t":262.5,"e":8.75,"v":-4.25},
{"t":97.5,"e":9.25,"v":-4.3},{"t":112.5,"e":9.25,"v":-4.25},{"t":127.5,"e":9.25,"v":-4.15},{"t":142.5,"e":9.25,"v":-4.05},{"t":157.5,"e":9.25,"v":-3.95},{"t":172.5,"e":9.25,"v":-3.9},{"t":187.5,"e":9.25,"v":-3.9},{"t":202.5,"e":9.25,"v":-3.95},{"t":217.5,"e":9.25,"v":-4.05},{"t":232.5,"e":9.25,"v":-4.15},{"t":247.5,"e":9.25,"v":-4.25},{"t":262.5,"e":9.25,"v":-4.3},
{"t":112.5,"e":9.75,"v":-4.4},{"t":127.5,"e":9.75,"v":-4.3},{"t":142.5,"e":9.75,"v":-4.2},{"t":157.5,"e":9.75,"v":-4.1},{"t":172.5,"e":9.75,"v":-4},{"t":187.5,"e":9.75,"v":-4},{"t":202.5,"e":9.75,"v":-4.1},{"t":217.5,"e":9.75,"v":-4.2},{"t":232.5,"e":9.75,"v":-4.3},{"t":247.5,"e":9.75,"v":-4.4}]},"resolve":{"axis":{"x":"independent","y":"independent"}},"layer":[
{"mark":{"type":"rect","width":10.6,"height":7.8},"encoding":{"x":{"field":"t","type":"quantitative","scale":{"domain":[0,360],"nice":false},"axis":{"title":null,"values":[0,90,180,270,360]}},"y":{"field":"e","type":"quantitative","scale":{"domain":[-0.1,10],"nice":false},"axis":{"title":null,"values":[0,1,2,3,4,5,6,7,8,9,10],"labelExpr":"datum.value%2==0?datum.label:''"}},"color":{"field":"v","type":"quantitative","legend":null,"scale":{"domain":[-4.5,-4.1875,-3.875,-3.5625,-3.25,-2.9375,-2.625,-2.3125,-2],"range":["#00007f","#0000ff","#007fff","#00ffff","#7fff7f","#ffff00","#ff7f00","#ff0000","#7f0000"]}}}},
{"data":{"name":"one"},"mark":{"type":"rule","color":"white","strokeWidth":1.5},"encoding":{"y":{"datum":-0.05,"type":"quantitative","scale":{"domain":[-0.1,10],"nice":false},"axis":null}}},
{"data":{"values":[{"t":65,"e":8.9,"s":"A4+B1"}]},"mark":{"type":"text","fontSize":26,"color":"white"},"encoding":{"x":{"field":"t","type":"quantitative","axis":{"orient":"top","title":null,"labels":false,"values":[0,90,180,270,360]}},"y":{"field":"e","type":"quantitative","scale":{"domain":[-0.1,10],"nice":false},"axis":{"orient":"right","title":null,"labels":false,"values":[0,1,2,3,4,5,6,7,8,9,10]}},"text":{"field":"s"}}},
{"data":{"values":[{"t":320,"e":8.9,"s":"(d)"}]},"mark":{"type":"text","fontSize":22,"color":"white"},"encoding":{"x":{"field":"t","type":"quantitative","axis":null},"y":{"field":"e","type":"quantitative","scale":{"domain":[-0.1,10],"nice":false},"axis":null},"text":{"field":"s"}}},
{"data":{"values":[{"a":-44.4,"b":813,"c":21.77,"d":-1.7}]},"mark":{"type":"rect","fill":null,"fillOpacity":0,"stroke":"#0000ff","strokeWidth":2.5,"strokeDash":[5,3],"clip":false},"encoding":{"x":{"field":"a","type":"quantitative","axis":null},"x2":{"field":"b"},"y":{"field":"c","type":"quantitative","scale":{"domain":[-0.1,10],"nice":false},"axis":null},"y2":{"field":"d"}}}]},
{"width":243,"height":145,"view":{"fill":"#00007f"},"data":{"values":[
{"t":52.5,"e":0.25,"v":-4},{"t":67.5,"e":0.25,"v":-3.6},{"t":82.5,"e":0.25,"v":-2.9},{"t":277.5,"e":0.25,"v":-3},{"t":292.5,"e":0.25,"v":-3.6},{"t":307.5,"e":0.25,"v":-4},{"t":67.5,"e":0.75,"v":-4.1},{"t":82.5,"e":0.75,"v":-3.1},{"t":277.5,"e":0.75,"v":-3.2},{"t":292.5,"e":0.75,"v":-4.1},{"t":82.5,"e":1.25,"v":-4.2},{"t":277.5,"e":1.25,"v":-4.2},
{"t":97.5,"e":0.25,"v":-2.7},{"t":112.5,"e":0.25,"v":-2.65},{"t":127.5,"e":0.25,"v":-2.6},{"t":142.5,"e":0.25,"v":-2.6},{"t":157.5,"e":0.25,"v":-2.65},{"t":172.5,"e":0.25,"v":-2.7},{"t":187.5,"e":0.25,"v":-2.75},{"t":202.5,"e":0.25,"v":-2.85},{"t":217.5,"e":0.25,"v":-2.9},{"t":232.5,"e":0.25,"v":-2.95},{"t":247.5,"e":0.25,"v":-2.95},{"t":262.5,"e":0.25,"v":-3},
{"t":97.5,"e":0.75,"v":-2.6},{"t":112.5,"e":0.75,"v":-2.6},{"t":127.5,"e":0.75,"v":-2.55},{"t":142.5,"e":0.75,"v":-2.6},{"t":157.5,"e":0.75,"v":-2.7},{"t":172.5,"e":0.75,"v":-2.85},{"t":187.5,"e":0.75,"v":-3.1},{"t":202.5,"e":0.75,"v":-3.3},{"t":217.5,"e":0.75,"v":-3.2},{"t":232.5,"e":0.75,"v":-3},{"t":247.5,"e":0.75,"v":-2.9},{"t":262.5,"e":0.75,"v":-2.85},
{"t":97.5,"e":1.25,"v":-2.65},{"t":112.5,"e":1.25,"v":-2.65},{"t":127.5,"e":1.25,"v":-2.65},{"t":142.5,"e":1.25,"v":-2.7},{"t":157.5,"e":1.25,"v":-3},{"t":172.5,"e":1.25,"v":-3.5},{"t":187.5,"e":1.25,"v":-4.4},{"t":202.5,"e":1.25,"v":-3.7},{"t":217.5,"e":1.25,"v":-3.1},{"t":232.5,"e":1.25,"v":-2.9},{"t":247.5,"e":1.25,"v":-2.7},{"t":262.5,"e":1.25,"v":-2.65},
{"t":97.5,"e":1.75,"v":-2.7},{"t":112.5,"e":1.75,"v":-2.7},{"t":127.5,"e":1.75,"v":-2.7},{"t":142.5,"e":1.75,"v":-2.85},{"t":157.5,"e":1.75,"v":-3.15},{"t":172.5,"e":1.75,"v":-4.1},{"t":187.5,"e":1.75,"v":-3.7},{"t":202.5,"e":1.75,"v":-3.15},{"t":217.5,"e":1.75,"v":-3},{"t":232.5,"e":1.75,"v":-2.75},{"t":247.5,"e":1.75,"v":-2.65},{"t":262.5,"e":1.75,"v":-2.65},
{"t":97.5,"e":2.25,"v":-2.75},{"t":112.5,"e":2.25,"v":-2.75},{"t":127.5,"e":2.25,"v":-2.8},{"t":142.5,"e":2.25,"v":-2.85},{"t":157.5,"e":2.25,"v":-3.15},{"t":172.5,"e":2.25,"v":-3.5},{"t":187.5,"e":2.25,"v":-3.1},{"t":202.5,"e":2.25,"v":-2.85},{"t":217.5,"e":2.25,"v":-2.75},{"t":232.5,"e":2.25,"v":-2.75},{"t":247.5,"e":2.25,"v":-2.8},{"t":262.5,"e":2.25,"v":-2.8},
{"t":97.5,"e":2.75,"v":-2.85},{"t":112.5,"e":2.75,"v":-2.85},{"t":127.5,"e":2.75,"v":-2.85},{"t":142.5,"e":2.75,"v":-2.9},{"t":157.5,"e":2.75,"v":-3.05},{"t":172.5,"e":2.75,"v":-3.1},{"t":187.5,"e":2.75,"v":-2.85},{"t":202.5,"e":2.75,"v":-2.75},{"t":217.5,"e":2.75,"v":-2.8},{"t":232.5,"e":2.75,"v":-2.9},{"t":247.5,"e":2.75,"v":-2.9},{"t":262.5,"e":2.75,"v":-2.9},
{"t":97.5,"e":3.25,"v":-2.95},{"t":112.5,"e":3.25,"v":-2.95},{"t":127.5,"e":3.25,"v":-2.95},{"t":142.5,"e":3.25,"v":-3},{"t":157.5,"e":3.25,"v":-3.1},{"t":172.5,"e":3.25,"v":-3.1},{"t":187.5,"e":3.25,"v":-3.05},{"t":202.5,"e":3.25,"v":-3.1},{"t":217.5,"e":3.25,"v":-3.1},{"t":232.5,"e":3.25,"v":-3.05},{"t":247.5,"e":3.25,"v":-2.95},{"t":262.5,"e":3.25,"v":-2.95},
{"t":97.5,"e":3.75,"v":-3.05},{"t":112.5,"e":3.75,"v":-3.05},{"t":127.5,"e":3.75,"v":-3.05},{"t":142.5,"e":3.75,"v":-3.05},{"t":157.5,"e":3.75,"v":-3.15},{"t":172.5,"e":3.75,"v":-3.3},{"t":187.5,"e":3.75,"v":-3.7},{"t":202.5,"e":3.75,"v":-4},{"t":217.5,"e":3.75,"v":-3.6},{"t":232.5,"e":3.75,"v":-3.15},{"t":247.5,"e":3.75,"v":-3},{"t":262.5,"e":3.75,"v":-3},
{"t":97.5,"e":4.25,"v":-3.2},{"t":112.5,"e":4.25,"v":-3.15},{"t":127.5,"e":4.25,"v":-3.15},{"t":142.5,"e":4.25,"v":-3.15},{"t":157.5,"e":4.25,"v":-3.25},{"t":172.5,"e":4.25,"v":-3.65},{"t":187.5,"e":4.25,"v":-4.4},{"t":202.5,"e":4.25,"v":-4.2},{"t":217.5,"e":4.25,"v":-3.4},{"t":232.5,"e":4.25,"v":-3.2},{"t":247.5,"e":4.25,"v":-3.1},{"t":262.5,"e":4.25,"v":-3.15},
{"t":97.5,"e":4.75,"v":-3.35},{"t":112.5,"e":4.75,"v":-3.3},{"t":127.5,"e":4.75,"v":-3.25},{"t":142.5,"e":4.75,"v":-3.25},{"t":157.5,"e":4.75,"v":-3.45},{"t":172.5,"e":4.75,"v":-4.1},{"t":187.5,"e":4.75,"v":-4.4},{"t":202.5,"e":4.75,"v":-3.55},{"t":217.5,"e":4.75,"v":-3.3},{"t":232.5,"e":4.75,"v":-3.25},{"t":247.5,"e":4.75,"v":-3.25},{"t":262.5,"e":4.75,"v":-3.3},
{"t":97.5,"e":5.25,"v":-3.45},{"t":112.5,"e":5.25,"v":-3.4},{"t":127.5,"e":5.25,"v":-3.35},{"t":142.5,"e":5.25,"v":-3.35},{"t":157.5,"e":5.25,"v":-3.7},{"t":172.5,"e":5.25,"v":-4.2},{"t":187.5,"e":5.25,"v":-3.7},{"t":202.5,"e":5.25,"v":-3.45},{"t":217.5,"e":5.25,"v":-3.4},{"t":232.5,"e":5.25,"v":-3.35},{"t":247.5,"e":5.25,"v":-3.35},{"t":262.5,"e":5.25,"v":-3.4},
{"t":97.5,"e":5.75,"v":-3.55},{"t":112.5,"e":5.75,"v":-3.5},{"t":127.5,"e":5.75,"v":-3.5},{"t":142.5,"e":5.75,"v":-3.45},{"t":157.5,"e":5.75,"v":-3.55},{"t":172.5,"e":5.75,"v":-3.6},{"t":187.5,"e":5.75,"v":-3.55},{"t":202.5,"e":5.75,"v":-3.6},{"t":217.5,"e":5.75,"v":-3.55},{"t":232.5,"e":5.75,"v":-3.45},{"t":247.5,"e":5.75,"v":-3.45},{"t":262.5,"e":5.75,"v":-3.5},
{"t":97.5,"e":6.25,"v":-3.7},{"t":112.5,"e":6.25,"v":-3.65},{"t":127.5,"e":6.25,"v":-3.6},{"t":142.5,"e":6.25,"v":-3.55},{"t":157.5,"e":6.25,"v":-3.5},{"t":172.5,"e":6.25,"v":-3.55},{"t":187.5,"e":6.25,"v":-3.75},{"t":202.5,"e":6.25,"v":-4},{"t":217.5,"e":6.25,"v":-3.7},{"t":232.5,"e":6.25,"v":-3.55},{"t":247.5,"e":6.25,"v":-3.55},{"t":262.5,"e":6.25,"v":-3.6},
{"t":97.5,"e":6.75,"v":-3.85},{"t":112.5,"e":6.75,"v":-3.8},{"t":127.5,"e":6.75,"v":-3.7},{"t":142.5,"e":6.75,"v":-3.65},{"t":157.5,"e":6.75,"v":-3.6},{"t":172.5,"e":6.75,"v":-3.7},{"t":187.5,"e":6.75,"v":-4.1},{"t":202.5,"e":6.75,"v":-4.3},{"t":217.5,"e":6.75,"v":-3.65},{"t":232.5,"e":6.75,"v":-3.65},{"t":247.5,"e":6.75,"v":-3.7},{"t":262.5,"e":6.75,"v":-3.8},
{"t":97.5,"e":7.25,"v":-4},{"t":112.5,"e":7.25,"v":-3.9},{"t":127.5,"e":7.25,"v":-3.85},{"t":142.5,"e":7.25,"v":-3.75},{"t":157.5,"e":7.25,"v":-3.7},{"t":172.5,"e":7.25,"v":-3.85},{"t":187.5,"e":7.25,"v":-4.4},{"t":202.5,"e":7.25,"v":-3.9},{"t":217.5,"e":7.25,"v":-3.7},{"t":232.5,"e":7.25,"v":-3.8},{"t":247.5,"e":7.25,"v":-3.9},{"t":262.5,"e":7.25,"v":-3.95},
{"t":97.5,"e":7.75,"v":-4.1},{"t":112.5,"e":7.75,"v":-4.05},{"t":127.5,"e":7.75,"v":-3.95},{"t":142.5,"e":7.75,"v":-3.85},{"t":157.5,"e":7.75,"v":-3.8},{"t":172.5,"e":7.75,"v":-4.1},{"t":187.5,"e":7.75,"v":-4.4},{"t":202.5,"e":7.75,"v":-3.7},{"t":217.5,"e":7.75,"v":-3.8},{"t":232.5,"e":7.75,"v":-4},{"t":247.5,"e":7.75,"v":-4.05},{"t":262.5,"e":7.75,"v":-4.05},
{"t":97.5,"e":8.25,"v":-4.2},{"t":112.5,"e":8.25,"v":-4.15},{"t":127.5,"e":8.25,"v":-4.05},{"t":142.5,"e":8.25,"v":-3.95},{"t":157.5,"e":8.25,"v":-3.85},{"t":172.5,"e":8.25,"v":-4.4},{"t":187.5,"e":8.25,"v":-4.1},{"t":202.5,"e":8.25,"v":-3.75},{"t":217.5,"e":8.25,"v":-3.95},{"t":232.5,"e":8.25,"v":-4.1},{"t":247.5,"e":8.25,"v":-4.15},{"t":262.5,"e":8.25,"v":-4.15},
{"t":97.5,"e":8.75,"v":-4.25},{"t":112.5,"e":8.75,"v":-4.25},{"t":127.5,"e":8.75,"v":-4.15},{"t":142.5,"e":8.75,"v":-4},{"t":157.5,"e":8.75,"v":-3.95},{"t":172.5,"e":8.75,"v":-4.4},{"t":187.5,"e":8.75,"v":-3.95},{"t":202.5,"e":8.75,"v":-3.85},{"t":217.5,"e":8.75,"v":-4.1},{"t":232.5,"e":8.75,"v":-4.2},{"t":247.5,"e":8.75,"v":-4.2},{"t":262.5,"e":8.75,"v":-4.2},
{"t":97.5,"e":9.25,"v":-4.3},{"t":112.5,"e":9.25,"v":-4.3},{"t":127.5,"e":9.25,"v":-4.25},{"t":142.5,"e":9.25,"v":-4.1},{"t":157.5,"e":9.25,"v":-4.15},{"t":172.5,"e":9.25,"v":-4.3},{"t":187.5,"e":9.25,"v":-3.85},{"t":202.5,"e":9.25,"v":-4},{"t":217.5,"e":9.25,"v":-4.2},{"t":232.5,"e":9.25,"v":-4.25},{"t":247.5,"e":9.25,"v":-4.25},{"t":262.5,"e":9.25,"v":-4.25},
{"t":97.5,"e":9.75,"v":-4.4},{"t":112.5,"e":9.75,"v":-4.4},{"t":127.5,"e":9.75,"v":-4.35},{"t":142.5,"e":9.75,"v":-4.2},{"t":157.5,"e":9.75,"v":-4.05},{"t":172.5,"e":9.75,"v":-4.15},{"t":187.5,"e":9.75,"v":-3.95},{"t":202.5,"e":9.75,"v":-4.1},{"t":217.5,"e":9.75,"v":-4.25},{"t":232.5,"e":9.75,"v":-4.3},{"t":247.5,"e":9.75,"v":-4.3},{"t":262.5,"e":9.75,"v":-4.35}]},"resolve":{"axis":{"x":"independent","y":"independent"}},"layer":[
{"mark":{"type":"rect","width":10.6,"height":7.8},"encoding":{"x":{"field":"t","type":"quantitative","scale":{"domain":[0,360],"nice":false},"axis":{"title":null,"values":[0,90,180,270,360]}},"y":{"field":"e","type":"quantitative","scale":{"domain":[-0.1,10],"nice":false},"axis":{"title":null,"labels":false,"values":[0,1,2,3,4,5,6,7,8,9,10]}},"color":{"field":"v","type":"quantitative","scale":{"domain":[-4.5,-4.1875,-3.875,-3.5625,-3.25,-2.9375,-2.625,-2.3125,-2],"range":["#00007f","#0000ff","#007fff","#00ffff","#7fff7f","#ffff00","#ff7f00","#ff0000","#7f0000"]},"legend":{"orient":"none","legendX":246,"legendY":-2,"title":null,"gradientLength":149,"gradientThickness":16,"values":[-4.5,-4,-3.5,-3,-2.5,-2],"format":".1f","labelFontSize":12,"labelOffset":3}}}},
{"data":{"name":"one"},"mark":{"type":"rule","color":"white","strokeWidth":1.5},"encoding":{"y":{"datum":-0.05,"type":"quantitative","scale":{"domain":[-0.1,10],"nice":false},"axis":null}}},
{"data":{"values":[{"t":294,"e":8.9,"s":"A1+B1"}]},"mark":{"type":"text","fontSize":26,"color":"white"},"encoding":{"x":{"field":"t","type":"quantitative","axis":{"orient":"top","title":null,"labels":false,"values":[0,90,180,270,360]}},"y":{"field":"e","type":"quantitative","scale":{"domain":[-0.1,10],"nice":false},"axis":{"orient":"right","title":null,"labels":false,"values":[0,1,2,3,4,5,6,7,8,9,10]}},"text":{"field":"s"}}},
{"data":{"values":[{"t":32,"e":8.9,"s":"(e)"}]},"mark":{"type":"text","fontSize":22,"color":"white"},"encoding":{"x":{"field":"t","type":"quantitative","axis":null},"y":{"field":"e","type":"quantitative","scale":{"domain":[-0.1,10],"nice":false},"axis":null},"text":{"field":"s"}}}]}]},
{"width":1,"height":185,"data":{"name":"one"},"mark":{"type":"point","opacity":0},"encoding":{}},
{"spacing":13,"bounds":"flush","resolve":{"scale":{"color":"independent","x":"independent","y":"independent"}},"hconcat":[
{"width":243,"height":145,"view":{"fill":"#00007f"},"data":{"values":[
{"t":97.5,"e":0.25,"v":-2.6},{"t":112.5,"e":0.25,"v":-2.6},{"t":127.5,"e":0.25,"v":-2.6},{"t":142.5,"e":0.25,"v":-2.6},{"t":157.5,"e":0.25,"v":-2.65},{"t":172.5,"e":0.25,"v":-2.65},{"t":187.5,"e":0.25,"v":-2.65},{"t":202.5,"e":0.25,"v":-2.65},{"t":217.5,"e":0.25,"v":-2.7},{"t":232.5,"e":0.25,"v":-2.7},{"t":247.5,"e":0.25,"v":-2.6},{"t":262.5,"e":0.25,"v":-2.5},
{"t":97.5,"e":0.75,"v":-3},{"t":112.5,"e":0.75,"v":-2.95},{"t":127.5,"e":0.75,"v":-2.95},{"t":142.5,"e":0.75,"v":-3},{"t":157.5,"e":0.75,"v":-3.1},{"t":172.5,"e":0.75,"v":-3.15},{"t":187.5,"e":0.75,"v":-3.05},{"t":202.5,"e":0.75,"v":-3.05},{"t":217.5,"e":0.75,"v":-3.3},{"t":232.5,"e":0.75,"v":-3.8},{"t":247.5,"e":0.75,"v":-4.4},{"t":262.5,"e":0.75,"v":-2.6},
{"t":97.5,"e":1.25,"v":-3.3},{"t":112.5,"e":1.25,"v":-3.2},{"t":127.5,"e":1.25,"v":-3.15},{"t":142.5,"e":1.25,"v":-3.2},{"t":157.5,"e":1.25,"v":-3.15},{"t":172.5,"e":1.25,"v":-2.9},{"t":187.5,"e":1.25,"v":-2.65},{"t":202.5,"e":1.25,"v":-2.55},{"t":217.5,"e":1.25,"v":-2.45},{"t":232.5,"e":1.25,"v":-3.1},{"t":247.5,"e":1.25,"v":-4.2},{"t":262.5,"e":1.25,"v":-2.75},
{"t":97.5,"e":1.75,"v":-3.5},{"t":112.5,"e":1.75,"v":-3.45},{"t":127.5,"e":1.75,"v":-3.4},{"t":142.5,"e":1.75,"v":-3.3},{"t":157.5,"e":1.75,"v":-3.2},{"t":172.5,"e":1.75,"v":-2.85},{"t":187.5,"e":1.75,"v":-2.65},{"t":202.5,"e":1.75,"v":-2.5},{"t":217.5,"e":1.75,"v":-2.35},{"t":232.5,"e":1.75,"v":-2.35},{"t":247.5,"e":1.75,"v":-3},{"t":262.5,"e":1.75,"v":-3},
{"t":97.5,"e":2.25,"v":-3.7},{"t":112.5,"e":2.25,"v":-3.65},{"t":127.5,"e":2.25,"v":-3.55},{"t":142.5,"e":2.25,"v":-3.45},{"t":157.5,"e":2.25,"v":-3.3},{"t":172.5,"e":2.25,"v":-2.95},{"t":187.5,"e":2.25,"v":-2.8},{"t":202.5,"e":2.25,"v":-2.65},{"t":217.5,"e":2.25,"v":-2.5},{"t":232.5,"e":2.25,"v":-2.4},{"t":247.5,"e":2.25,"v":-2.45},{"t":262.5,"e":2.25,"v":-3.3},
{"t":97.5,"e":2.75,"v":-3.85},{"t":112.5,"e":2.75,"v":-3.8},{"t":127.5,"e":2.75,"v":-3.75},{"t":142.5,"e":2.75,"v":-3.6},{"t":157.5,"e":2.75,"v":-3.35},{"t":172.5,"e":2.75,"v":-3.15},{"t":187.5,"e":2.75,"v":-3.1},{"t":202.5,"e":2.75,"v":-2.95},{"t":217.5,"e":2.75,"v":-2.7},{"t":232.5,"e":2.75,"v":-2.5},{"t":247.5,"e":2.75,"v":-2.45},{"t":262.5,"e":2.75,"v":-3.35},
{"t":97.5,"e":3.25,"v":-4},{"t":112.5,"e":3.25,"v":-3.95},{"t":127.5,"e":3.25,"v":-3.9},{"t":142.5,"e":3.25,"v":-3.75},{"t":157.5,"e":3.25,"v":-3.65},{"t":172.5,"e":3.25,"v":-3.4},{"t":187.5,"e":3.25,"v":-3.3},{"t":202.5,"e":3.25,"v":-3.05},{"t":217.5,"e":3.25,"v":-2.85},{"t":232.5,"e":3.25,"v":-2.65},{"t":247.5,"e":3.25,"v":-2.5},{"t":262.5,"e":3.25,"v":-3.3},
{"t":97.5,"e":3.75,"v":-4.2},{"t":112.5,"e":3.75,"v":-4.15},{"t":127.5,"e":3.75,"v":-4.05},{"t":142.5,"e":3.75,"v":-3.9},{"t":157.5,"e":3.75,"v":-3.8},{"t":172.5,"e":3.75,"v":-3.7},{"t":187.5,"e":3.75,"v":-3.75},{"t":202.5,"e":3.75,"v":-3.55},{"t":217.5,"e":3.75,"v":-3.1},{"t":232.5,"e":3.75,"v":-2.8},{"t":247.5,"e":3.75,"v":-2.55},{"t":262.5,"e":3.75,"v":-3.3},
{"t":97.5,"e":4.25,"v":-4.4},{"t":112.5,"e":4.25,"v":-4.35},{"t":127.5,"e":4.25,"v":-4.2},{"t":142.5,"e":4.25,"v":-4.05},{"t":157.5,"e":4.25,"v":-3.9},{"t":172.5,"e":4.25,"v":-3.8},{"t":187.5,"e":4.25,"v":-3.95},{"t":202.5,"e":4.25,"v":-4.2},{"t":217.5,"e":4.25,"v":-3.35},{"t":232.5,"e":4.25,"v":-2.9},{"t":247.5,"e":4.25,"v":-2.65},{"t":262.5,"e":4.25,"v":-3.3},
{"t":97.5,"e":4.75,"v":-4.6},{"t":112.5,"e":4.75,"v":-4.55},{"t":127.5,"e":4.75,"v":-4.4},{"t":142.5,"e":4.75,"v":-4.2},{"t":157.5,"e":4.75,"v":-4},{"t":172.5,"e":4.75,"v":-3.85},{"t":187.5,"e":4.75,"v":-4},{"t":202.5,"e":4.75,"v":-4.8},{"t":217.5,"e":4.75,"v":-3.6},{"t":232.5,"e":4.75,"v":-3.05},{"t":247.5,"e":4.75,"v":-2.75},{"t":262.5,"e":4.75,"v":-3.3},
{"t":97.5,"e":5.25,"v":-4.8},{"t":112.5,"e":5.25,"v":-4.7},{"t":127.5,"e":5.25,"v":-4.5},{"t":142.5,"e":5.25,"v":-4.3},{"t":157.5,"e":5.25,"v":-4.05},{"t":172.5,"e":5.25,"v":-3.85},{"t":187.5,"e":5.25,"v":-4},{"t":202.5,"e":5.25,"v":-4.6},{"t":217.5,"e":5.25,"v":-4.3},{"t":232.5,"e":5.25,"v":-3.2},{"t":247.5,"e":5.25,"v":-2.85},{"t":262.5,"e":5.25,"v":-3.35},
{"t":97.5,"e":5.75,"v":-4.95},{"t":112.5,"e":5.75,"v":-4.8},{"t":127.5,"e":5.75,"v":-4.6},{"t":142.5,"e":5.75,"v":-4.35},{"t":157.5,"e":5.75,"v":-4.1},{"t":172.5,"e":5.75,"v":-3.9},{"t":187.5,"e":5.75,"v":-3.95},{"t":202.5,"e":5.75,"v":-4.3},{"t":217.5,"e":5.75,"v":-4.6},{"t":232.5,"e":5.75,"v":-3.3},{"t":247.5,"e":5.75,"v":-3},{"t":262.5,"e":5.75,"v":-3.4},
{"t":112.5,"e":6.25,"v":-4.9},{"t":127.5,"e":6.25,"v":-4.7},{"t":142.5,"e":6.25,"v":-4.45},{"t":157.5,"e":6.25,"v":-4.15},{"t":172.5,"e":6.25,"v":-3.95},{"t":187.5,"e":6.25,"v":-3.9},{"t":202.5,"e":6.25,"v":-4},{"t":217.5,"e":6.25,"v":-4.4},{"t":232.5,"e":6.25,"v":-3.4},{"t":247.5,"e":6.25,"v":-3.15},{"t":262.5,"e":6.25,"v":-3.4},
{"t":127.5,"e":6.75,"v":-4.8},{"t":142.5,"e":6.75,"v":-4.55},{"t":157.5,"e":6.75,"v":-4.25},{"t":172.5,"e":6.75,"v":-4},{"t":187.5,"e":6.75,"v":-3.85},{"t":202.5,"e":6.75,"v":-3.85},{"t":217.5,"e":6.75,"v":-4.4},{"t":232.5,"e":6.75,"v":-3.5},{"t":247.5,"e":6.75,"v":-3.3},{"t":262.5,"e":6.75,"v":-3.5},
{"t":127.5,"e":7.25,"v":-4.9},{"t":142.5,"e":7.25,"v":-4.65},{"t":157.5,"e":7.25,"v":-4.4},{"t":172.5,"e":7.25,"v":-4.1},{"t":187.5,"e":7.25,"v":-3.85},{"t":202.5,"e":7.25,"v":-3.8},{"t":217.5,"e":7.25,"v":-4.3},{"t":232.5,"e":7.25,"v":-3.6},{"t":247.5,"e":7.25,"v":-3.4},{"t":262.5,"e":7.25,"v":-3.6},
{"t":142.5,"e":7.75,"v":-4.8},{"t":157.5,"e":7.75,"v":-4.5},{"t":172.5,"e":7.75,"v":-4.2},{"t":187.5,"e":7.75,"v":-3.85},{"t":202.5,"e":7.75,"v":-3.8},{"t":217.5,"e":7.75,"v":-4.3},{"t":232.5,"e":7.75,"v":-3.7},{"t":247.5,"e":7.75,"v":-3.5},{"t":262.5,"e":7.75,"v":-3.65},
{"t":142.5,"e":8.25,"v":-4.9},{"t":157.5,"e":8.25,"v":-4.6},{"t":172.5,"e":8.25,"v":-4.25},{"t":187.5,"e":8.25,"v":-3.9},{"t":202.5,"e":8.25,"v":-3.85},{"t":217.5,"e":8.25,"v":-4.2},{"t":232.5,"e":8.25,"v":-3.75},{"t":247.5,"e":8.25,"v":-3.6},{"t":262.5,"e":8.25,"v":-3.7},
{"t":157.5,"e":8.75,"v":-4.8},{"t":172.5,"e":8.75,"v":-4.4},{"t":187.5,"e":8.75,"v":-3.9},{"t":202.5,"e":8.75,"v":-3.9},{"t":217.5,"e":8.75,"v":-4.2},{"t":232.5,"e":8.75,"v":-3.85},{"t":247.5,"e":8.75,"v":-3.7},{"t":262.5,"e":8.75,"v":-3.8},
{"t":157.5,"e":9.25,"v":-4.9},{"t":172.5,"e":9.25,"v":-4.6},{"t":187.5,"e":9.25,"v":-3.95},{"t":202.5,"e":9.25,"v":-3.95},{"t":217.5,"e":9.25,"v":-4.2},{"t":232.5,"e":9.25,"v":-3.95},{"t":247.5,"e":9.25,"v":-3.8},{"t":262.5,"e":9.25,"v":-3.85},
{"t":172.5,"e":9.75,"v":-4.8},{"t":187.5,"e":9.75,"v":-4},{"t":202.5,"e":9.75,"v":-4},{"t":217.5,"e":9.75,"v":-4.2},{"t":232.5,"e":9.75,"v":-4},{"t":247.5,"e":9.75,"v":-3.85},{"t":262.5,"e":9.75,"v":-3.95}]},"resolve":{"axis":{"x":"independent","y":"independent"}},"layer":[
{"mark":{"type":"rect","width":10.6,"height":7.8},"encoding":{"x":{"field":"t","type":"quantitative","scale":{"domain":[0,360],"nice":false},"axis":{"title":"θ (deg)","titleFontSize":21,"titlePadding":17,"values":[0,90,180,270,360]}},"y":{"field":"e","type":"quantitative","scale":{"domain":[-0.1,10],"nice":false},"axis":{"title":"energy (eV)","titleFontSize":21,"titleX":-43,"values":[0,1,2,3,4,5,6,7,8,9,10],"labelExpr":"datum.value%2==0?datum.label:''"}},"color":{"field":"v","type":"quantitative","legend":null,"scale":{"domain":[-5,-4.625,-4.25,-3.875,-3.5,-3.125,-2.75,-2.375,-2],"range":["#00007f","#0000ff","#007fff","#00ffff","#7fff7f","#ffff00","#ff7f00","#ff0000","#7f0000"]}}}},
{"data":{"name":"one"},"mark":{"type":"rule","color":"white","strokeWidth":1.5},"encoding":{"y":{"datum":-0.05,"type":"quantitative","scale":{"domain":[-0.1,10],"nice":false},"axis":null}}},
{"data":{"values":[{"t":65,"e":9,"s":"A4+B1"}]},"mark":{"type":"text","fontSize":26,"color":"white"},"encoding":{"x":{"field":"t","type":"quantitative","axis":{"orient":"top","title":null,"labels":false,"values":[0,90,180,270,360]}},"y":{"field":"e","type":"quantitative","scale":{"domain":[-0.1,10],"nice":false},"axis":{"orient":"right","title":null,"labels":false,"values":[0,1,2,3,4,5,6,7,8,9,10]}},"text":{"field":"s"}}},
{"data":{"values":[{"t":315,"e":8.9,"s":"(f)"}]},"mark":{"type":"text","fontSize":22,"color":"white"},"encoding":{"x":{"field":"t","type":"quantitative","axis":null},"y":{"field":"e","type":"quantitative","scale":{"domain":[-0.1,10],"nice":false},"axis":null},"text":{"field":"s"}}},
{"data":{"values":[{"a":-44.4,"b":813,"c":10.9,"d":-1.84}]},"mark":{"type":"rect","fill":null,"fillOpacity":0,"stroke":"#1f6b12","strokeWidth":2.5,"strokeDash":[5,3],"clip":false},"encoding":{"x":{"field":"a","type":"quantitative","axis":null},"x2":{"field":"b"},"y":{"field":"c","type":"quantitative","scale":{"domain":[-0.1,10],"nice":false},"axis":null},"y2":{"field":"d"}}}]},
{"width":243,"height":145,"view":{"fill":"#00007f"},"data":{"values":[
{"t":97.5,"e":0.25,"v":-3.05},{"t":112.5,"e":0.25,"v":-2.95},{"t":127.5,"e":0.25,"v":-2.9},{"t":142.5,"e":0.25,"v":-2.85},{"t":157.5,"e":0.25,"v":-2.85},{"t":172.5,"e":0.25,"v":-2.85},{"t":187.5,"e":0.25,"v":-2.8},{"t":202.5,"e":0.25,"v":-2.75},{"t":217.5,"e":0.25,"v":-2.6},{"t":232.5,"e":0.25,"v":-2.5},{"t":247.5,"e":0.25,"v":-2.4},{"t":262.5,"e":0.25,"v":-2.35},
{"t":97.5,"e":0.75,"v":-2.9},{"t":112.5,"e":0.75,"v":-2.7},{"t":127.5,"e":0.75,"v":-2.55},{"t":142.5,"e":0.75,"v":-2.5},{"t":157.5,"e":0.75,"v":-2.5},{"t":172.5,"e":0.75,"v":-2.55},{"t":187.5,"e":0.75,"v":-2.6},{"t":202.5,"e":0.75,"v":-2.6},{"t":217.5,"e":0.75,"v":-2.7},{"t":232.5,"e":0.75,"v":-4.5},{"t":247.5,"e":0.75,"v":-3},{"t":262.5,"e":0.75,"v":-2.35},
{"t":97.5,"e":1.25,"v":-3},{"t":112.5,"e":1.25,"v":-2.95},{"t":127.5,"e":1.25,"v":-2.8},{"t":142.5,"e":1.25,"v":-2.7},{"t":157.5,"e":1.25,"v":-2.7},{"t":172.5,"e":1.25,"v":-2.65},{"t":187.5,"e":1.25,"v":-2.6},{"t":202.5,"e":1.25,"v":-2.65},{"t":217.5,"e":1.25,"v":-2.75},{"t":232.5,"e":1.25,"v":-3.6},{"t":247.5,"e":1.25,"v":-3.8},{"t":262.5,"e":1.25,"v":-2.4},
{"t":97.5,"e":1.75,"v":-3.4},{"t":112.5,"e":1.75,"v":-3.3},{"t":127.5,"e":1.75,"v":-3.1},{"t":142.5,"e":1.75,"v":-2.85},{"t":157.5,"e":1.75,"v":-2.75},{"t":172.5,"e":1.75,"v":-2.75},{"t":187.5,"e":1.75,"v":-2.95},{"t":202.5,"e":1.75,"v":-3.4},{"t":217.5,"e":1.75,"v":-3.15},{"t":232.5,"e":1.75,"v":-2.85},{"t":247.5,"e":1.75,"v":-2.5},{"t":262.5,"e":1.75,"v":-2.45},
{"t":97.5,"e":2.25,"v":-3.6},{"t":112.5,"e":2.25,"v":-3.5},{"t":127.5,"e":2.25,"v":-3.3},{"t":142.5,"e":2.25,"v":-2.95},{"t":157.5,"e":2.25,"v":-2.85},{"t":172.5,"e":2.25,"v":-2.9},{"t":187.5,"e":2.25,"v":-3},{"t":202.5,"e":2.25,"v":-4.4},{"t":217.5,"e":2.25,"v":-3.4},{"t":232.5,"e":2.25,"v":-2.75},{"t":247.5,"e":2.25,"v":-2.45},{"t":262.5,"e":2.25,"v":-2.65},
{"t":97.5,"e":2.75,"v":-3.8},{"t":112.5,"e":2.75,"v":-3.65},{"t":127.5,"e":2.75,"v":-3.5},{"t":142.5,"e":2.75,"v":-3.3},{"t":157.5,"e":2.75,"v":-3.2},{"t":172.5,"e":2.75,"v":-3.1},{"t":187.5,"e":2.75,"v":-3.15},{"t":202.5,"e":2.75,"v":-3.25},{"t":217.5,"e":2.75,"v":-4.2},{"t":232.5,"e":2.75,"v":-2.8},{"t":247.5,"e":2.75,"v":-2.5},{"t":262.5,"e":2.75,"v":-2.85},
{"t":97.5,"e":3.25,"v":-4},{"t":112.5,"e":3.25,"v":-3.85},{"t":127.5,"e":3.25,"v":-3.65},{"t":142.5,"e":3.25,"v":-3.5},{"t":157.5,"e":3.25,"v":-3.4},{"t":172.5,"e":3.25,"v":-3.3},{"t":187.5,"e":3.25,"v":-3.35},{"t":202.5,"e":3.25,"v":-3.2},{"t":217.5,"e":3.25,"v":-3.1},{"t":232.5,"e":3.25,"v":-2.8},{"t":247.5,"e":3.25,"v":-2.55},{"t":262.5,"e":3.25,"v":-3},
{"t":97.5,"e":3.75,"v":-4.2},{"t":112.5,"e":3.75,"v":-4},{"t":127.5,"e":3.75,"v":-3.8},{"t":142.5,"e":3.75,"v":-3.6},{"t":157.5,"e":3.75,"v":-3.5},{"t":172.5,"e":3.75,"v":-3.45},{"t":187.5,"e":3.75,"v":-4.5},{"t":202.5,"e":3.75,"v":-3.3},{"t":217.5,"e":3.75,"v":-3.05},{"t":232.5,"e":3.75,"v":-2.9},{"t":247.5,"e":3.75,"v":-2.6},{"t":262.5,"e":3.75,"v":-3.1},
{"t":97.5,"e":4.25,"v":-4.35},{"t":112.5,"e":4.25,"v":-4.1},{"t":127.5,"e":4.25,"v":-3.9},{"t":142.5,"e":4.25,"v":-3.7},{"t":157.5,"e":4.25,"v":-3.55},{"t":172.5,"e":4.25,"v":-3.5},{"t":187.5,"e":4.25,"v":-4.1},{"t":202.5,"e":4.25,"v":-3.6},{"t":217.5,"e":4.25,"v":-3.15},{"t":232.5,"e":4.25,"v":-2.95},{"t":247.5,"e":4.25,"v":-2.7},{"t":262.5,"e":4.25,"v":-3.2},
{"t":97.5,"e":4.75,"v":-4.5},{"t":112.5,"e":4.75,"v":-4.25},{"t":127.5,"e":4.75,"v":-4},{"t":142.5,"e":4.75,"v":-3.8},{"t":157.5,"e":4.75,"v":-3.6},{"t":172.5,"e":4.75,"v":-3.6},{"t":187.5,"e":4.75,"v":-3.9},{"t":202.5,"e":4.75,"v":-4.5},{"t":217.5,"e":4.75,"v":-3.25},{"t":232.5,"e":4.75,"v":-3},{"t":247.5,"e":4.75,"v":-2.85},{"t":262.5,"e":4.75,"v":-3.25},
{"t":97.5,"e":5.25,"v":-4.7},{"t":112.5,"e":5.25,"v":-4.4},{"t":127.5,"e":5.25,"v":-4.1},{"t":142.5,"e":5.25,"v":-3.85},{"t":157.5,"e":5.25,"v":-3.65},{"t":172.5,"e":5.25,"v":-3.6},{"t":187.5,"e":5.25,"v":-3.6},{"t":202.5,"e":5.25,"v":-3.5},{"t":217.5,"e":5.25,"v":-3.3},{"t":232.5,"e":5.25,"v":-3.1},{"t":247.5,"e":5.25,"v":-3},{"t":262.5,"e":5.25,"v":-3.3},
{"t":97.5,"e":5.75,"v":-4.8},{"t":112.5,"e":5.75,"v":-4.5},{"t":127.5,"e":5.75,"v":-4.2},{"t":142.5,"e":5.75,"v":-3.9},{"t":157.5,"e":5.75,"v":-3.75},{"t":172.5,"e":5.75,"v":-3.65},{"t":187.5,"e":5.75,"v":-3.9},{"t":202.5,"e":5.75,"v":-3.55},{"t":217.5,"e":5.75,"v":-3.35},{"t":232.5,"e":5.75,"v":-3.2},{"t":247.5,"e":5.75,"v":-3.1},{"t":262.5,"e":5.75,"v":-3.3},
{"t":97.5,"e":6.25,"v":-4.95},{"t":112.5,"e":6.25,"v":-4.6},{"t":127.5,"e":6.25,"v":-4.3},{"t":142.5,"e":6.25,"v":-4},{"t":157.5,"e":6.25,"v":-3.8},{"t":172.5,"e":6.25,"v":-3.7},{"t":187.5,"e":6.25,"v":-4.6},{"t":202.5,"e":6.25,"v":-3.65},{"t":217.5,"e":6.25,"v":-3.4},{"t":232.5,"e":6.25,"v":-3.3},{"t":247.5,"e":6.25,"v":-3.2},{"t":262.5,"e":6.25,"v":-3.35},
{"t":112.5,"e":6.75,"v":-4.8},{"t":127.5,"e":6.75,"v":-4.4},{"t":142.5,"e":6.75,"v":-4.1},{"t":157.5,"e":6.75,"v":-3.85},{"t":172.5,"e":6.75,"v":-3.75},{"t":187.5,"e":6.75,"v":-4.1},{"t":202.5,"e":6.75,"v":-4.1},{"t":217.5,"e":6.75,"v":-3.5},{"t":232.5,"e":6.75,"v":-3.4},{"t":247.5,"e":6.75,"v":-3.3},{"t":262.5,"e":6.75,"v":-3.4},
{"t":112.5,"e":7.25,"v":-4.9},{"t":127.5,"e":7.25,"v":-4.55},{"t":142.5,"e":7.25,"v":-4.2},{"t":157.5,"e":7.25,"v":-3.95},{"t":172.5,"e":7.25,"v":-3.8},{"t":187.5,"e":7.25,"v":-3.8},{"t":202.5,"e":7.25,"v":-4.6},{"t":217.5,"e":7.25,"v":-3.55},{"t":232.5,"e":7.25,"v":-3.5},{"t":247.5,"e":7.25,"v":-3.4},{"t":262.5,"e":7.25,"v":-3.45},
{"t":127.5,"e":7.75,"v":-4.7},{"t":142.5,"e":7.75,"v":-4.3},{"t":157.5,"e":7.75,"v":-4},{"t":172.5,"e":7.75,"v":-3.85},{"t":187.5,"e":7.75,"v":-3.85},{"t":202.5,"e":7.75,"v":-3.9},{"t":217.5,"e":7.75,"v":-3.6},{"t":232.5,"e":7.75,"v":-3.55},{"t":247.5,"e":7.75,"v":-3.5},{"t":262.5,"e":7.75,"v":-3.5},
{"t":127.5,"e":8.25,"v":-4.9},{"t":142.5,"e":8.25,"v":-4.4},{"t":157.5,"e":8.25,"v":-4.1},{"t":172.5,"e":8.25,"v":-3.85},{"t":187.5,"e":8.25,"v":-4.4},{"t":202.5,"e":8.25,"v":-3.85},{"t":217.5,"e":8.25,"v":-3.7},{"t":232.5,"e":8.25,"v":-3.65},{"t":247.5,"e":8.25,"v":-3.55},{"t":262.5,"e":8.25,"v":-3.55},
{"t":142.5,"e":8.75,"v":-4.6},{"t":157.5,"e":8.75,"v":-4.2},{"t":172.5,"e":8.75,"v":-3.9},{"t":187.5,"e":8.75,"v":-4.6},{"t":202.5,"e":8.75,"v":-3.9},{"t":217.5,"e":8.75,"v":-3.8},{"t":232.5,"e":8.75,"v":-3.7},{"t":247.5,"e":8.75,"v":-3.65},{"t":262.5,"e":8.75,"v":-3.65},
{"t":142.5,"e":9.25,"v":-4.8},{"t":157.5,"e":9.25,"v":-4.3},{"t":172.5,"e":9.25,"v":-3.95},{"t":187.5,"e":9.25,"v":-4.2},{"t":202.5,"e":9.25,"v":-4.2},{"t":217.5,"e":9.25,"v":-3.85},{"t":232.5,"e":9.25,"v":-3.8},{"t":247.5,"e":9.25,"v":-3.75},{"t":262.5,"e":9.25,"v":-3.7},
{"t":157.5,"e":9.75,"v":-4.4},{"t":172.5,"e":9.75,"v":-4},{"t":187.5,"e":9.75,"v":-4.05},{"t":202.5,"e":9.75,"v":-4.4},{"t":217.5,"e":9.75,"v":-3.9},{"t":232.5,"e":9.75,"v":-3.85},{"t":247.5,"e":9.75,"v":-3.8},{"t":262.5,"e":9.75,"v":-3.8}]},"resolve":{"axis":{"x":"independent","y":"independent"}},"layer":[
{"mark":{"type":"rect","width":10.6,"height":7.8},"encoding":{"x":{"field":"t","type":"quantitative","scale":{"domain":[0,360],"nice":false},"axis":{"title":"θ (deg)","titleFontSize":21,"titlePadding":17,"values":[0,90,180,270,360]}},"y":{"field":"e","type":"quantitative","scale":{"domain":[-0.1,10],"nice":false},"axis":{"title":null,"labels":false,"values":[0,1,2,3,4,5,6,7,8,9,10]}},"color":{"field":"v","type":"quantitative","scale":{"domain":[-5,-4.625,-4.25,-3.875,-3.5,-3.125,-2.75,-2.375,-2],"range":["#00007f","#0000ff","#007fff","#00ffff","#7fff7f","#ffff00","#ff7f00","#ff0000","#7f0000"]},"legend":{"orient":"none","legendX":247,"legendY":-3,"title":null,"gradientLength":150,"gradientThickness":15,"values":[-5,-4.5,-4,-3.5,-3,-2.5,-2],"format":".1f","labelFontSize":12,"labelOffset":3}}}},
{"data":{"name":"one"},"mark":{"type":"rule","color":"white","strokeWidth":1.5},"encoding":{"y":{"datum":-0.05,"type":"quantitative","scale":{"domain":[-0.1,10],"nice":false},"axis":null}}},
{"data":{"values":[{"t":293,"e":9,"s":"B1+B4"}]},"mark":{"type":"text","fontSize":26,"color":"white"},"encoding":{"x":{"field":"t","type":"quantitative","axis":{"orient":"top","title":null,"labels":false,"values":[0,90,180,270,360]}},"y":{"field":"e","type":"quantitative","scale":{"domain":[-0.1,10],"nice":false},"axis":{"orient":"right","title":null,"labels":false,"values":[0,1,2,3,4,5,6,7,8,9,10]}},"text":{"field":"s"}}},
{"data":{"values":[{"t":32,"e":8.9,"s":"(g)"}]},"mark":{"type":"text","fontSize":22,"color":"white"},"encoding":{"x":{"field":"t","type":"quantitative","axis":null},"y":{"field":"e","type":"quantitative","scale":{"domain":[-0.1,10],"nice":false},"axis":null},"text":{"field":"s"}}},
{"data":{"values":[{"t":458,"e":8.75,"s":"φ= π"}]},"mark":{"type":"text","fontSize":25,"fontWeight":"bold","angle":90,"color":"#1f6b12"},"encoding":{"x":{"field":"t","type":"quantitative","axis":null},"y":{"field":"e","type":"quantitative","scale":{"domain":[-0.1,10],"nice":false},"axis":null},"text":{"field":"s"}}}]}]}
]}
